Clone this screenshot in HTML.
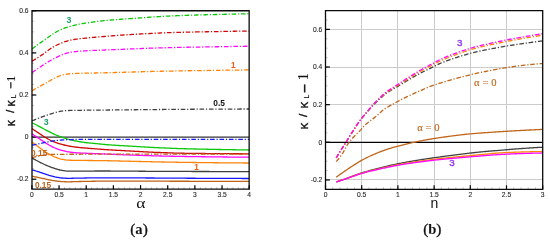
<!DOCTYPE html>
<html><head><meta charset="utf-8"><style>
html,body{margin:0;padding:0;background:#fff;width:550px;height:241px;overflow:hidden;}
svg{display:block;will-change:transform;}
</style></head><body>
<svg width="550" height="241" viewBox="0 0 550 241">
<style>
.tk{font-family:"Liberation Sans",sans-serif;font-size:6.7px;fill:#2a2a2a;stroke:#2a2a2a;stroke-width:0.12px;}
.lb{font-family:"Liberation Sans",sans-serif;font-weight:bold;}
.sf{font-family:"Liberation Serif",serif;}
</style>
<rect width="550" height="241" fill="#fff"/>
<line x1="31.90" y1="189.15" x2="31.90" y2="187.15" stroke="#a8a8a8" stroke-width="0.7"/>
<line x1="37.33" y1="189.15" x2="37.33" y2="187.15" stroke="#a8a8a8" stroke-width="0.7"/>
<line x1="42.77" y1="189.15" x2="42.77" y2="187.15" stroke="#a8a8a8" stroke-width="0.7"/>
<line x1="48.20" y1="189.15" x2="48.20" y2="187.15" stroke="#a8a8a8" stroke-width="0.7"/>
<line x1="53.63" y1="189.15" x2="53.63" y2="187.15" stroke="#a8a8a8" stroke-width="0.7"/>
<line x1="59.06" y1="189.15" x2="59.06" y2="187.15" stroke="#a8a8a8" stroke-width="0.7"/>
<line x1="64.50" y1="189.15" x2="64.50" y2="187.15" stroke="#a8a8a8" stroke-width="0.7"/>
<line x1="69.93" y1="189.15" x2="69.93" y2="187.15" stroke="#a8a8a8" stroke-width="0.7"/>
<line x1="75.36" y1="189.15" x2="75.36" y2="187.15" stroke="#a8a8a8" stroke-width="0.7"/>
<line x1="80.80" y1="189.15" x2="80.80" y2="187.15" stroke="#a8a8a8" stroke-width="0.7"/>
<line x1="86.23" y1="189.15" x2="86.23" y2="187.15" stroke="#a8a8a8" stroke-width="0.7"/>
<line x1="91.66" y1="189.15" x2="91.66" y2="187.15" stroke="#a8a8a8" stroke-width="0.7"/>
<line x1="97.10" y1="189.15" x2="97.10" y2="187.15" stroke="#a8a8a8" stroke-width="0.7"/>
<line x1="102.53" y1="189.15" x2="102.53" y2="187.15" stroke="#a8a8a8" stroke-width="0.7"/>
<line x1="107.96" y1="189.15" x2="107.96" y2="187.15" stroke="#a8a8a8" stroke-width="0.7"/>
<line x1="113.40" y1="189.15" x2="113.40" y2="187.15" stroke="#a8a8a8" stroke-width="0.7"/>
<line x1="118.83" y1="189.15" x2="118.83" y2="187.15" stroke="#a8a8a8" stroke-width="0.7"/>
<line x1="124.26" y1="189.15" x2="124.26" y2="187.15" stroke="#a8a8a8" stroke-width="0.7"/>
<line x1="129.69" y1="189.15" x2="129.69" y2="187.15" stroke="#a8a8a8" stroke-width="0.7"/>
<line x1="135.13" y1="189.15" x2="135.13" y2="187.15" stroke="#a8a8a8" stroke-width="0.7"/>
<line x1="140.56" y1="189.15" x2="140.56" y2="187.15" stroke="#a8a8a8" stroke-width="0.7"/>
<line x1="145.99" y1="189.15" x2="145.99" y2="187.15" stroke="#a8a8a8" stroke-width="0.7"/>
<line x1="151.43" y1="189.15" x2="151.43" y2="187.15" stroke="#a8a8a8" stroke-width="0.7"/>
<line x1="156.86" y1="189.15" x2="156.86" y2="187.15" stroke="#a8a8a8" stroke-width="0.7"/>
<line x1="162.29" y1="189.15" x2="162.29" y2="187.15" stroke="#a8a8a8" stroke-width="0.7"/>
<line x1="167.72" y1="189.15" x2="167.72" y2="187.15" stroke="#a8a8a8" stroke-width="0.7"/>
<line x1="173.16" y1="189.15" x2="173.16" y2="187.15" stroke="#a8a8a8" stroke-width="0.7"/>
<line x1="178.59" y1="189.15" x2="178.59" y2="187.15" stroke="#a8a8a8" stroke-width="0.7"/>
<line x1="184.02" y1="189.15" x2="184.02" y2="187.15" stroke="#a8a8a8" stroke-width="0.7"/>
<line x1="189.46" y1="189.15" x2="189.46" y2="187.15" stroke="#a8a8a8" stroke-width="0.7"/>
<line x1="194.89" y1="189.15" x2="194.89" y2="187.15" stroke="#a8a8a8" stroke-width="0.7"/>
<line x1="200.32" y1="189.15" x2="200.32" y2="187.15" stroke="#a8a8a8" stroke-width="0.7"/>
<line x1="205.76" y1="189.15" x2="205.76" y2="187.15" stroke="#a8a8a8" stroke-width="0.7"/>
<line x1="211.19" y1="189.15" x2="211.19" y2="187.15" stroke="#a8a8a8" stroke-width="0.7"/>
<line x1="216.62" y1="189.15" x2="216.62" y2="187.15" stroke="#a8a8a8" stroke-width="0.7"/>
<line x1="222.06" y1="189.15" x2="222.06" y2="187.15" stroke="#a8a8a8" stroke-width="0.7"/>
<line x1="227.49" y1="189.15" x2="227.49" y2="187.15" stroke="#a8a8a8" stroke-width="0.7"/>
<line x1="232.92" y1="189.15" x2="232.92" y2="187.15" stroke="#a8a8a8" stroke-width="0.7"/>
<line x1="238.35" y1="189.15" x2="238.35" y2="187.15" stroke="#a8a8a8" stroke-width="0.7"/>
<line x1="243.79" y1="189.15" x2="243.79" y2="187.15" stroke="#a8a8a8" stroke-width="0.7"/>
<line x1="249.22" y1="189.15" x2="249.22" y2="187.15" stroke="#a8a8a8" stroke-width="0.7"/>
<line x1="31.9" y1="179.20" x2="33.9" y2="179.20" stroke="#a8a8a8" stroke-width="0.7"/>
<line x1="31.9" y1="168.67" x2="33.9" y2="168.67" stroke="#a8a8a8" stroke-width="0.7"/>
<line x1="31.9" y1="158.15" x2="33.9" y2="158.15" stroke="#a8a8a8" stroke-width="0.7"/>
<line x1="31.9" y1="147.62" x2="33.9" y2="147.62" stroke="#a8a8a8" stroke-width="0.7"/>
<line x1="31.9" y1="137.10" x2="33.9" y2="137.10" stroke="#a8a8a8" stroke-width="0.7"/>
<line x1="31.9" y1="126.57" x2="33.9" y2="126.57" stroke="#a8a8a8" stroke-width="0.7"/>
<line x1="31.9" y1="116.05" x2="33.9" y2="116.05" stroke="#a8a8a8" stroke-width="0.7"/>
<line x1="31.9" y1="105.52" x2="33.9" y2="105.52" stroke="#a8a8a8" stroke-width="0.7"/>
<line x1="31.9" y1="95.00" x2="33.9" y2="95.00" stroke="#a8a8a8" stroke-width="0.7"/>
<line x1="31.9" y1="84.47" x2="33.9" y2="84.47" stroke="#a8a8a8" stroke-width="0.7"/>
<line x1="31.9" y1="73.95" x2="33.9" y2="73.95" stroke="#a8a8a8" stroke-width="0.7"/>
<line x1="31.9" y1="63.42" x2="33.9" y2="63.42" stroke="#a8a8a8" stroke-width="0.7"/>
<line x1="31.9" y1="52.90" x2="33.9" y2="52.90" stroke="#a8a8a8" stroke-width="0.7"/>
<line x1="31.9" y1="42.37" x2="33.9" y2="42.37" stroke="#a8a8a8" stroke-width="0.7"/>
<line x1="31.9" y1="31.85" x2="33.9" y2="31.85" stroke="#a8a8a8" stroke-width="0.7"/>
<line x1="31.9" y1="21.32" x2="33.9" y2="21.32" stroke="#a8a8a8" stroke-width="0.7"/>
<line x1="31.9" y1="10.80" x2="33.9" y2="10.80" stroke="#a8a8a8" stroke-width="0.7"/>
<line x1="31.90" y1="189.15" x2="31.90" y2="185.15" stroke="#000" stroke-width="1.2"/>
<line x1="59.06" y1="189.15" x2="59.06" y2="185.15" stroke="#000" stroke-width="1.2"/>
<line x1="86.23" y1="189.15" x2="86.23" y2="185.15" stroke="#000" stroke-width="1.2"/>
<line x1="113.40" y1="189.15" x2="113.40" y2="185.15" stroke="#000" stroke-width="1.2"/>
<line x1="140.56" y1="189.15" x2="140.56" y2="185.15" stroke="#000" stroke-width="1.2"/>
<line x1="167.72" y1="189.15" x2="167.72" y2="185.15" stroke="#000" stroke-width="1.2"/>
<line x1="194.89" y1="189.15" x2="194.89" y2="185.15" stroke="#000" stroke-width="1.2"/>
<line x1="222.06" y1="189.15" x2="222.06" y2="185.15" stroke="#000" stroke-width="1.2"/>
<line x1="249.22" y1="189.15" x2="249.22" y2="185.15" stroke="#000" stroke-width="1.2"/>
<line x1="31.9" y1="179.20" x2="36.3" y2="179.20" stroke="#000" stroke-width="1.2"/>
<line x1="31.9" y1="137.10" x2="36.3" y2="137.10" stroke="#000" stroke-width="1.2"/>
<line x1="31.9" y1="95.00" x2="36.3" y2="95.00" stroke="#000" stroke-width="1.2"/>
<line x1="31.9" y1="52.90" x2="36.3" y2="52.90" stroke="#000" stroke-width="1.2"/>
<line x1="31.9" y1="10.80" x2="36.3" y2="10.80" stroke="#000" stroke-width="1.2"/>
<text x="31.90" y="197.1" class="tk" text-anchor="middle">0</text>
<text x="59.06" y="197.1" class="tk" text-anchor="middle">0.5</text>
<text x="86.23" y="197.1" class="tk" text-anchor="middle">1</text>
<text x="113.40" y="197.1" class="tk" text-anchor="middle">1.5</text>
<text x="140.56" y="197.1" class="tk" text-anchor="middle">2</text>
<text x="167.72" y="197.1" class="tk" text-anchor="middle">2.5</text>
<text x="194.89" y="197.1" class="tk" text-anchor="middle">3</text>
<text x="222.06" y="197.1" class="tk" text-anchor="middle">3.5</text>
<text x="249.22" y="197.1" class="tk" text-anchor="middle">4</text>
<text x="28.60" y="181.45" class="tk" text-anchor="end">-0.2</text>
<text x="28.60" y="139.35" class="tk" text-anchor="end">0</text>
<text x="28.60" y="97.25" class="tk" text-anchor="end">0.2</text>
<text x="28.60" y="55.15" class="tk" text-anchor="end">0.4</text>
<text x="28.60" y="13.05" class="tk" text-anchor="end">0.6</text>
<line x1="31.9" y1="137.1" x2="249.15" y2="137.1" stroke="#333" stroke-width="1.25"/>
<g fill="none" stroke-width="1.3">
<path d="M32.00,176.30 L33.00,176.47 L34.00,176.64 L35.00,176.82 L36.00,177.01 L37.00,177.20 L38.00,177.40 L39.00,177.62 L40.00,177.84 L41.00,178.06 L42.00,178.28 L43.00,178.50 L44.00,178.72 L45.00,178.94 L46.00,179.16 L47.00,179.38 L48.00,179.60 L49.00,179.81 L50.00,180.00 L51.00,180.19 L52.00,180.37 L53.00,180.55 L54.00,180.71 L55.00,180.87 L56.00,181.00 L57.00,181.12 L58.00,181.24 L59.00,181.36 L60.00,181.46 L61.00,181.54 L62.00,181.60 L63.00,181.65 L64.00,181.70 L65.00,181.74 L66.00,181.77 L67.00,181.79 L68.00,181.80 L69.00,181.80 L70.00,181.78 L71.00,181.76 L72.00,181.74 L73.00,181.71 L74.00,181.68 L75.00,181.65 L76.00,181.61 L77.00,181.58 L78.00,181.55 L79.00,181.52 L80.00,181.50 L81.00,181.48 L82.00,181.46 L83.00,181.44 L84.00,181.42 L85.00,181.40 L86.00,181.38 L87.00,181.36 L88.00,181.34 L89.00,181.32 L90.00,181.30 L91.00,181.28 L92.00,181.27 L93.00,181.25 L94.00,181.24 L95.00,181.23 L96.00,181.22 L97.00,181.21 L98.00,181.20 L99.00,181.20 L100.00,181.20 L101.00,181.20 L102.00,181.20 L103.00,181.20 L104.00,181.20 L105.00,181.20 L106.00,181.20 L107.00,181.20 L108.00,181.20 L109.00,181.20 L110.00,181.20 L111.00,181.20 L112.00,181.20 L113.00,181.20 L114.00,181.20 L115.00,181.20 L116.00,181.20 L117.00,181.20 L118.00,181.20 L119.00,181.20 L120.00,181.20 L121.00,181.20 L122.00,181.20 L123.00,181.20 L124.00,181.20 L125.00,181.20 L126.00,181.20 L127.00,181.20 L128.00,181.20 L129.00,181.20 L130.00,181.20 L131.00,181.20 L132.00,181.20 L133.00,181.20 L134.00,181.20 L135.00,181.20 L136.00,181.20 L137.00,181.20 L138.00,181.20 L139.00,181.20 L140.00,181.20 L141.00,181.20 L142.00,181.20 L143.00,181.20 L144.00,181.20 L145.00,181.20 L146.00,181.20 L147.00,181.20 L148.00,181.20 L149.00,181.20 L150.00,181.20 L151.00,181.20 L152.00,181.20 L153.00,181.20 L154.00,181.20 L155.00,181.20 L156.00,181.20 L157.00,181.20 L158.00,181.20 L159.00,181.21 L160.00,181.21 L161.00,181.21 L162.00,181.21 L163.00,181.21 L164.00,181.21 L165.00,181.22 L166.00,181.22 L167.00,181.22 L168.00,181.22 L169.00,181.22 L170.00,181.23 L171.00,181.23 L172.00,181.23 L173.00,181.23 L174.00,181.23 L175.00,181.24 L176.00,181.24 L177.00,181.24 L178.00,181.25 L179.00,181.25 L180.00,181.25 L181.00,181.25 L182.00,181.26 L183.00,181.26 L184.00,181.26 L185.00,181.26 L186.00,181.27 L187.00,181.27 L188.00,181.27 L189.00,181.27 L190.00,181.28 L191.00,181.28 L192.00,181.28 L193.00,181.28 L194.00,181.29 L195.00,181.29 L196.00,181.29 L197.00,181.29 L198.00,181.30 L199.00,181.30 L200.00,181.30 L201.00,181.30 L202.00,181.30 L203.00,181.31 L204.00,181.31 L205.00,181.31 L206.00,181.31 L207.00,181.31 L208.00,181.32 L209.00,181.32 L210.00,181.32 L211.00,181.32 L212.00,181.32 L213.00,181.33 L214.00,181.33 L215.00,181.33 L216.00,181.33 L217.00,181.33 L218.00,181.34 L219.00,181.34 L220.00,181.34 L221.00,181.34 L222.00,181.34 L223.00,181.35 L224.00,181.35 L225.00,181.35 L226.00,181.35 L227.00,181.35 L228.00,181.36 L229.00,181.36 L230.00,181.36 L231.00,181.36 L232.00,181.37 L233.00,181.37 L234.00,181.37 L235.00,181.37 L236.00,181.37 L237.00,181.38 L238.00,181.38 L239.00,181.38 L240.00,181.38 L241.00,181.38 L242.00,181.39 L243.00,181.39 L244.00,181.39 L245.00,181.39 L246.00,181.39 L247.00,181.40 L248.00,181.40 L249.00,181.40" stroke="#c06418"/>
<path d="M32.00,169.90 L33.00,170.16 L34.00,170.43 L35.00,170.71 L36.00,171.00 L37.00,171.30 L38.00,171.61 L39.00,171.94 L40.00,172.28 L41.00,172.62 L42.00,172.96 L43.00,173.30 L44.00,173.64 L45.00,173.98 L46.00,174.32 L47.00,174.66 L48.00,174.99 L49.00,175.31 L50.00,175.60 L51.00,175.88 L52.00,176.16 L53.00,176.42 L54.00,176.67 L55.00,176.90 L56.00,177.10 L57.00,177.29 L58.00,177.47 L59.00,177.63 L60.00,177.78 L61.00,177.91 L62.00,178.00 L63.00,178.07 L64.00,178.14 L65.00,178.21 L66.00,178.26 L67.00,178.29 L68.00,178.30 L69.00,178.30 L70.00,178.29 L71.00,178.28 L72.00,178.26 L73.00,178.24 L74.00,178.22 L75.00,178.20 L76.00,178.18 L77.00,178.16 L78.00,178.14 L79.00,178.12 L80.00,178.10 L81.00,178.08 L82.00,178.07 L83.00,178.05 L84.00,178.03 L85.00,178.01 L86.00,177.99 L87.00,177.97 L88.00,177.95 L89.00,177.93 L90.00,177.91 L91.00,177.89 L92.00,177.88 L93.00,177.86 L94.00,177.84 L95.00,177.83 L96.00,177.82 L97.00,177.81 L98.00,177.81 L99.00,177.80 L100.00,177.80 L101.00,177.80 L102.00,177.80 L103.00,177.80 L104.00,177.80 L105.00,177.80 L106.00,177.80 L107.00,177.81 L108.00,177.81 L109.00,177.81 L110.00,177.81 L111.00,177.82 L112.00,177.82 L113.00,177.82 L114.00,177.82 L115.00,177.83 L116.00,177.83 L117.00,177.84 L118.00,177.84 L119.00,177.84 L120.00,177.85 L121.00,177.85 L122.00,177.86 L123.00,177.86 L124.00,177.87 L125.00,177.87 L126.00,177.87 L127.00,177.88 L128.00,177.88 L129.00,177.89 L130.00,177.90 L131.00,177.90 L132.00,177.91 L133.00,177.91 L134.00,177.92 L135.00,177.92 L136.00,177.93 L137.00,177.93 L138.00,177.94 L139.00,177.94 L140.00,177.95 L141.00,177.95 L142.00,177.96 L143.00,177.96 L144.00,177.97 L145.00,177.97 L146.00,177.98 L147.00,177.99 L148.00,177.99 L149.00,178.00 L150.00,178.00 L151.00,178.00 L152.00,178.01 L153.00,178.02 L154.00,178.02 L155.00,178.03 L156.00,178.03 L157.00,178.04 L158.00,178.04 L159.00,178.05 L160.00,178.05 L161.00,178.06 L162.00,178.07 L163.00,178.07 L164.00,178.08 L165.00,178.08 L166.00,178.09 L167.00,178.10 L168.00,178.10 L169.00,178.11 L170.00,178.12 L171.00,178.12 L172.00,178.13 L173.00,178.14 L174.00,178.14 L175.00,178.15 L176.00,178.16 L177.00,178.16 L178.00,178.17 L179.00,178.18 L180.00,178.18 L181.00,178.19 L182.00,178.20 L183.00,178.20 L184.00,178.21 L185.00,178.21 L186.00,178.22 L187.00,178.23 L188.00,178.23 L189.00,178.24 L190.00,178.25 L191.00,178.25 L192.00,178.26 L193.00,178.26 L194.00,178.27 L195.00,178.27 L196.00,178.28 L197.00,178.28 L198.00,178.29 L199.00,178.30 L200.00,178.30 L201.00,178.30 L202.00,178.31 L203.00,178.31 L204.00,178.32 L205.00,178.32 L206.00,178.33 L207.00,178.33 L208.00,178.34 L209.00,178.34 L210.00,178.35 L211.00,178.35 L212.00,178.36 L213.00,178.36 L214.00,178.37 L215.00,178.37 L216.00,178.37 L217.00,178.38 L218.00,178.38 L219.00,178.39 L220.00,178.39 L221.00,178.40 L222.00,178.40 L223.00,178.40 L224.00,178.41 L225.00,178.41 L226.00,178.42 L227.00,178.42 L228.00,178.42 L229.00,178.43 L230.00,178.43 L231.00,178.44 L232.00,178.44 L233.00,178.44 L234.00,178.45 L235.00,178.45 L236.00,178.46 L237.00,178.46 L238.00,178.46 L239.00,178.47 L240.00,178.47 L241.00,178.47 L242.00,178.48 L243.00,178.48 L244.00,178.48 L245.00,178.49 L246.00,178.49 L247.00,178.49 L248.00,178.50 L249.00,178.50" stroke="#1818ff"/>
<path d="M32.00,158.00 L33.00,158.56 L34.00,159.11 L35.00,159.66 L36.00,160.20 L37.00,160.73 L38.00,161.26 L39.00,161.79 L40.00,162.30 L41.00,162.80 L42.00,163.29 L43.00,163.78 L44.00,164.26 L45.00,164.72 L46.00,165.17 L47.00,165.60 L48.00,166.01 L49.00,166.41 L50.00,166.79 L51.00,167.17 L52.00,167.52 L53.00,167.87 L54.00,168.20 L55.00,168.53 L56.00,168.85 L57.00,169.17 L58.00,169.48 L59.00,169.75 L60.00,170.00 L61.00,170.20 L62.00,170.38 L63.00,170.55 L64.00,170.71 L65.00,170.85 L66.00,170.97 L67.00,171.05 L68.00,171.10 L69.00,171.12 L70.00,171.14 L71.00,171.16 L72.00,171.17 L73.00,171.18 L74.00,171.19 L75.00,171.20 L76.00,171.20 L77.00,171.20 L78.00,171.20 L79.00,171.19 L80.00,171.19 L81.00,171.18 L82.00,171.17 L83.00,171.16 L84.00,171.15 L85.00,171.14 L86.00,171.12 L87.00,171.11 L88.00,171.10 L89.00,171.09 L90.00,171.08 L91.00,171.06 L92.00,171.05 L93.00,171.04 L94.00,171.03 L95.00,171.02 L96.00,171.01 L97.00,171.01 L98.00,171.00 L99.00,171.00 L100.00,171.00 L101.00,171.00 L102.00,171.00 L103.00,171.00 L104.00,171.00 L105.00,171.01 L106.00,171.01 L107.00,171.01 L108.00,171.02 L109.00,171.02 L110.00,171.02 L111.00,171.03 L112.00,171.03 L113.00,171.04 L114.00,171.04 L115.00,171.05 L116.00,171.06 L117.00,171.06 L118.00,171.07 L119.00,171.08 L120.00,171.08 L121.00,171.09 L122.00,171.10 L123.00,171.10 L124.00,171.11 L125.00,171.12 L126.00,171.13 L127.00,171.14 L128.00,171.14 L129.00,171.15 L130.00,171.16 L131.00,171.17 L132.00,171.18 L133.00,171.18 L134.00,171.19 L135.00,171.20 L136.00,171.21 L137.00,171.22 L138.00,171.22 L139.00,171.23 L140.00,171.24 L141.00,171.25 L142.00,171.25 L143.00,171.26 L144.00,171.27 L145.00,171.27 L146.00,171.28 L147.00,171.28 L148.00,171.29 L149.00,171.30 L150.00,171.30 L151.00,171.30 L152.00,171.31 L153.00,171.31 L154.00,171.32 L155.00,171.32 L156.00,171.33 L157.00,171.33 L158.00,171.34 L159.00,171.34 L160.00,171.35 L161.00,171.35 L162.00,171.36 L163.00,171.36 L164.00,171.37 L165.00,171.37 L166.00,171.37 L167.00,171.38 L168.00,171.38 L169.00,171.39 L170.00,171.39 L171.00,171.40 L172.00,171.40 L173.00,171.40 L174.00,171.41 L175.00,171.41 L176.00,171.42 L177.00,171.42 L178.00,171.43 L179.00,171.43 L180.00,171.43 L181.00,171.44 L182.00,171.44 L183.00,171.44 L184.00,171.45 L185.00,171.45 L186.00,171.46 L187.00,171.46 L188.00,171.46 L189.00,171.47 L190.00,171.47 L191.00,171.47 L192.00,171.48 L193.00,171.48 L194.00,171.48 L195.00,171.49 L196.00,171.49 L197.00,171.49 L198.00,171.49 L199.00,171.50 L200.00,171.50 L201.00,171.50 L202.00,171.51 L203.00,171.51 L204.00,171.51 L205.00,171.51 L206.00,171.52 L207.00,171.52 L208.00,171.52 L209.00,171.52 L210.00,171.53 L211.00,171.53 L212.00,171.53 L213.00,171.53 L214.00,171.54 L215.00,171.54 L216.00,171.54 L217.00,171.54 L218.00,171.55 L219.00,171.55 L220.00,171.55 L221.00,171.55 L222.00,171.55 L223.00,171.56 L224.00,171.56 L225.00,171.56 L226.00,171.56 L227.00,171.57 L228.00,171.57 L229.00,171.57 L230.00,171.57 L231.00,171.57 L232.00,171.57 L233.00,171.58 L234.00,171.58 L235.00,171.58 L236.00,171.58 L237.00,171.58 L238.00,171.59 L239.00,171.59 L240.00,171.59 L241.00,171.59 L242.00,171.59 L243.00,171.59 L244.00,171.59 L245.00,171.60 L246.00,171.60 L247.00,171.60 L248.00,171.60 L249.00,171.60" stroke="#404040"/>
<path d="M32.00,142.20 L33.00,142.84 L34.00,143.51 L35.00,144.20 L36.00,144.91 L37.00,145.65 L38.00,146.43 L39.00,147.24 L40.00,148.04 L41.00,148.80 L42.00,149.53 L43.00,150.25 L44.00,150.96 L45.00,151.64 L46.00,152.29 L47.00,152.90 L48.00,153.48 L49.00,154.05 L50.00,154.61 L51.00,155.14 L52.00,155.65 L53.00,156.13 L54.00,156.58 L55.00,157.00 L56.00,157.40 L57.00,157.79 L58.00,158.16 L59.00,158.51 L60.00,158.82 L61.00,159.09 L62.00,159.30 L63.00,159.48 L64.00,159.65 L65.00,159.81 L66.00,159.95 L67.00,160.06 L68.00,160.15 L69.00,160.20 L70.00,160.23 L71.00,160.26 L72.00,160.28 L73.00,160.30 L74.00,160.32 L75.00,160.34 L76.00,160.35 L77.00,160.36 L78.00,160.37 L79.00,160.39 L80.00,160.40 L81.00,160.41 L82.00,160.42 L83.00,160.44 L84.00,160.45 L85.00,160.46 L86.00,160.47 L87.00,160.47 L88.00,160.48 L89.00,160.49 L90.00,160.50 L91.00,160.51 L92.00,160.52 L93.00,160.53 L94.00,160.53 L95.00,160.54 L96.00,160.55 L97.00,160.56 L98.00,160.58 L99.00,160.59 L100.00,160.60 L101.00,160.61 L102.00,160.63 L103.00,160.64 L104.00,160.66 L105.00,160.68 L106.00,160.70 L107.00,160.71 L108.00,160.73 L109.00,160.75 L110.00,160.78 L111.00,160.80 L112.00,160.82 L113.00,160.84 L114.00,160.86 L115.00,160.89 L116.00,160.91 L117.00,160.94 L118.00,160.96 L119.00,160.99 L120.00,161.01 L121.00,161.04 L122.00,161.06 L123.00,161.09 L124.00,161.11 L125.00,161.14 L126.00,161.16 L127.00,161.19 L128.00,161.21 L129.00,161.24 L130.00,161.27 L131.00,161.29 L132.00,161.31 L133.00,161.34 L134.00,161.36 L135.00,161.39 L136.00,161.41 L137.00,161.43 L138.00,161.46 L139.00,161.48 L140.00,161.50 L141.00,161.52 L142.00,161.54 L143.00,161.56 L144.00,161.59 L145.00,161.61 L146.00,161.63 L147.00,161.65 L148.00,161.67 L149.00,161.70 L150.00,161.72 L151.00,161.74 L152.00,161.76 L153.00,161.78 L154.00,161.81 L155.00,161.83 L156.00,161.85 L157.00,161.87 L158.00,161.89 L159.00,161.92 L160.00,161.94 L161.00,161.96 L162.00,161.98 L163.00,162.00 L164.00,162.02 L165.00,162.04 L166.00,162.06 L167.00,162.08 L168.00,162.10 L169.00,162.12 L170.00,162.14 L171.00,162.16 L172.00,162.17 L173.00,162.19 L174.00,162.21 L175.00,162.22 L176.00,162.24 L177.00,162.26 L178.00,162.27 L179.00,162.29 L180.00,162.30 L181.00,162.31 L182.00,162.33 L183.00,162.34 L184.00,162.36 L185.00,162.37 L186.00,162.38 L187.00,162.40 L188.00,162.41 L189.00,162.42 L190.00,162.44 L191.00,162.45 L192.00,162.46 L193.00,162.48 L194.00,162.49 L195.00,162.50 L196.00,162.52 L197.00,162.53 L198.00,162.54 L199.00,162.55 L200.00,162.57 L201.00,162.58 L202.00,162.59 L203.00,162.60 L204.00,162.62 L205.00,162.63 L206.00,162.64 L207.00,162.65 L208.00,162.66 L209.00,162.67 L210.00,162.69 L211.00,162.70 L212.00,162.71 L213.00,162.72 L214.00,162.73 L215.00,162.74 L216.00,162.75 L217.00,162.76 L218.00,162.77 L219.00,162.78 L220.00,162.79 L221.00,162.80 L222.00,162.81 L223.00,162.82 L224.00,162.83 L225.00,162.84 L226.00,162.85 L227.00,162.86 L228.00,162.87 L229.00,162.88 L230.00,162.88 L231.00,162.89 L232.00,162.90 L233.00,162.91 L234.00,162.91 L235.00,162.92 L236.00,162.93 L237.00,162.94 L238.00,162.94 L239.00,162.95 L240.00,162.95 L241.00,162.96 L242.00,162.97 L243.00,162.97 L244.00,162.98 L245.00,162.98 L246.00,162.99 L247.00,162.99 L248.00,163.00 L249.00,163.00" stroke="#ff8408"/>
<path d="M32.00,133.80 L33.00,134.48 L34.00,135.17 L35.00,135.85 L36.00,136.53 L37.00,137.20 L38.00,137.87 L39.00,138.55 L40.00,139.22 L41.00,139.88 L42.00,140.55 L43.00,141.20 L44.00,141.85 L45.00,142.51 L46.00,143.17 L47.00,143.81 L48.00,144.42 L49.00,145.00 L50.00,145.55 L51.00,146.09 L52.00,146.61 L53.00,147.10 L54.00,147.57 L55.00,148.00 L56.00,148.41 L57.00,148.80 L58.00,149.18 L59.00,149.53 L60.00,149.86 L61.00,150.17 L62.00,150.45 L63.00,150.72 L64.00,150.97 L65.00,151.21 L66.00,151.43 L67.00,151.62 L68.00,151.80 L69.00,151.96 L70.00,152.12 L71.00,152.26 L72.00,152.39 L73.00,152.51 L74.00,152.62 L75.00,152.70 L76.00,152.77 L77.00,152.83 L78.00,152.89 L79.00,152.94 L80.00,152.99 L81.00,153.03 L82.00,153.07 L83.00,153.11 L84.00,153.16 L85.00,153.20 L86.00,153.24 L87.00,153.29 L88.00,153.33 L89.00,153.37 L90.00,153.41 L91.00,153.45 L92.00,153.49 L93.00,153.53 L94.00,153.57 L95.00,153.61 L96.00,153.64 L97.00,153.68 L98.00,153.72 L99.00,153.76 L100.00,153.80 L101.00,153.84 L102.00,153.88 L103.00,153.92 L104.00,153.96 L105.00,154.00 L106.00,154.04 L107.00,154.09 L108.00,154.13 L109.00,154.17 L110.00,154.21 L111.00,154.25 L112.00,154.29 L113.00,154.33 L114.00,154.38 L115.00,154.42 L116.00,154.46 L117.00,154.50 L118.00,154.54 L119.00,154.58 L120.00,154.62 L121.00,154.66 L122.00,154.70 L123.00,154.74 L124.00,154.78 L125.00,154.82 L126.00,154.85 L127.00,154.89 L128.00,154.93 L129.00,154.96 L130.00,155.00 L131.00,155.04 L132.00,155.07 L133.00,155.11 L134.00,155.14 L135.00,155.18 L136.00,155.21 L137.00,155.25 L138.00,155.28 L139.00,155.32 L140.00,155.35 L141.00,155.39 L142.00,155.42 L143.00,155.46 L144.00,155.49 L145.00,155.52 L146.00,155.56 L147.00,155.59 L148.00,155.62 L149.00,155.66 L150.00,155.69 L151.00,155.72 L152.00,155.75 L153.00,155.78 L154.00,155.81 L155.00,155.84 L156.00,155.87 L157.00,155.90 L158.00,155.93 L159.00,155.95 L160.00,155.98 L161.00,156.00 L162.00,156.03 L163.00,156.05 L164.00,156.08 L165.00,156.10 L166.00,156.12 L167.00,156.14 L168.00,156.17 L169.00,156.19 L170.00,156.21 L171.00,156.23 L172.00,156.25 L173.00,156.27 L174.00,156.29 L175.00,156.31 L176.00,156.32 L177.00,156.34 L178.00,156.36 L179.00,156.38 L180.00,156.40 L181.00,156.41 L182.00,156.43 L183.00,156.45 L184.00,156.47 L185.00,156.48 L186.00,156.50 L187.00,156.51 L188.00,156.53 L189.00,156.54 L190.00,156.56 L191.00,156.58 L192.00,156.59 L193.00,156.60 L194.00,156.62 L195.00,156.63 L196.00,156.65 L197.00,156.66 L198.00,156.67 L199.00,156.69 L200.00,156.70 L201.00,156.71 L202.00,156.73 L203.00,156.74 L204.00,156.75 L205.00,156.76 L206.00,156.78 L207.00,156.79 L208.00,156.80 L209.00,156.81 L210.00,156.83 L211.00,156.84 L212.00,156.85 L213.00,156.86 L214.00,156.87 L215.00,156.89 L216.00,156.90 L217.00,156.91 L218.00,156.92 L219.00,156.93 L220.00,156.94 L221.00,156.95 L222.00,156.97 L223.00,156.98 L224.00,156.99 L225.00,157.00 L226.00,157.01 L227.00,157.02 L228.00,157.03 L229.00,157.04 L230.00,157.05 L231.00,157.06 L232.00,157.07 L233.00,157.08 L234.00,157.09 L235.00,157.09 L236.00,157.10 L237.00,157.11 L238.00,157.12 L239.00,157.13 L240.00,157.14 L241.00,157.14 L242.00,157.15 L243.00,157.16 L244.00,157.17 L245.00,157.17 L246.00,157.18 L247.00,157.19 L248.00,157.19 L249.00,157.20" stroke="#ff08ff"/>
<path d="M32.00,128.60 L33.00,129.27 L34.00,129.94 L35.00,130.61 L36.00,131.27 L37.00,131.94 L38.00,132.60 L39.00,133.27 L40.00,133.94 L41.00,134.62 L42.00,135.29 L43.00,135.95 L44.00,136.59 L45.00,137.20 L46.00,137.79 L47.00,138.38 L48.00,138.96 L49.00,139.51 L50.00,140.04 L51.00,140.54 L52.00,141.00 L53.00,141.43 L54.00,141.83 L55.00,142.22 L56.00,142.59 L57.00,142.94 L58.00,143.28 L59.00,143.60 L60.00,143.90 L61.00,144.19 L62.00,144.47 L63.00,144.74 L64.00,145.00 L65.00,145.25 L66.00,145.48 L67.00,145.70 L68.00,145.90 L69.00,146.09 L70.00,146.26 L71.00,146.43 L72.00,146.59 L73.00,146.73 L74.00,146.87 L75.00,147.00 L76.00,147.12 L77.00,147.23 L78.00,147.34 L79.00,147.44 L80.00,147.54 L81.00,147.64 L82.00,147.73 L83.00,147.82 L84.00,147.91 L85.00,148.00 L86.00,148.09 L87.00,148.17 L88.00,148.26 L89.00,148.34 L90.00,148.42 L91.00,148.49 L92.00,148.57 L93.00,148.65 L94.00,148.72 L95.00,148.80 L96.00,148.88 L97.00,148.95 L98.00,149.03 L99.00,149.11 L100.00,149.19 L101.00,149.26 L102.00,149.34 L103.00,149.41 L104.00,149.49 L105.00,149.56 L106.00,149.63 L107.00,149.70 L108.00,149.77 L109.00,149.84 L110.00,149.90 L111.00,149.96 L112.00,150.02 L113.00,150.08 L114.00,150.14 L115.00,150.20 L116.00,150.25 L117.00,150.31 L118.00,150.36 L119.00,150.42 L120.00,150.47 L121.00,150.52 L122.00,150.58 L123.00,150.63 L124.00,150.68 L125.00,150.73 L126.00,150.79 L127.00,150.84 L128.00,150.89 L129.00,150.95 L130.00,151.00 L131.00,151.06 L132.00,151.11 L133.00,151.17 L134.00,151.23 L135.00,151.28 L136.00,151.34 L137.00,151.40 L138.00,151.46 L139.00,151.52 L140.00,151.57 L141.00,151.63 L142.00,151.69 L143.00,151.74 L144.00,151.80 L145.00,151.85 L146.00,151.90 L147.00,151.95 L148.00,152.00 L149.00,152.05 L150.00,152.10 L151.00,152.15 L152.00,152.19 L153.00,152.23 L154.00,152.28 L155.00,152.32 L156.00,152.36 L157.00,152.40 L158.00,152.44 L159.00,152.48 L160.00,152.51 L161.00,152.55 L162.00,152.59 L163.00,152.63 L164.00,152.66 L165.00,152.70 L166.00,152.74 L167.00,152.77 L168.00,152.81 L169.00,152.85 L170.00,152.89 L171.00,152.93 L172.00,152.97 L173.00,153.00 L174.00,153.04 L175.00,153.07 L176.00,153.10 L177.00,153.13 L178.00,153.16 L179.00,153.18 L180.00,153.20 L181.00,153.22 L182.00,153.24 L183.00,153.25 L184.00,153.27 L185.00,153.28 L186.00,153.30 L187.00,153.31 L188.00,153.33 L189.00,153.34 L190.00,153.36 L191.00,153.37 L192.00,153.38 L193.00,153.39 L194.00,153.41 L195.00,153.42 L196.00,153.43 L197.00,153.44 L198.00,153.45 L199.00,153.46 L200.00,153.47 L201.00,153.48 L202.00,153.49 L203.00,153.50 L204.00,153.51 L205.00,153.52 L206.00,153.53 L207.00,153.54 L208.00,153.54 L209.00,153.55 L210.00,153.56 L211.00,153.57 L212.00,153.58 L213.00,153.58 L214.00,153.59 L215.00,153.60 L216.00,153.61 L217.00,153.62 L218.00,153.62 L219.00,153.63 L220.00,153.64 L221.00,153.65 L222.00,153.65 L223.00,153.66 L224.00,153.67 L225.00,153.67 L226.00,153.68 L227.00,153.69 L228.00,153.69 L229.00,153.70 L230.00,153.71 L231.00,153.71 L232.00,153.72 L233.00,153.73 L234.00,153.73 L235.00,153.74 L236.00,153.74 L237.00,153.75 L238.00,153.75 L239.00,153.76 L240.00,153.76 L241.00,153.77 L242.00,153.77 L243.00,153.78 L244.00,153.78 L245.00,153.79 L246.00,153.79 L247.00,153.79 L248.00,153.80 L249.00,153.80" stroke="#d00808"/>
<path d="M32.00,122.80 L33.00,123.29 L34.00,123.78 L35.00,124.28 L36.00,124.78 L37.00,125.29 L38.00,125.80 L39.00,126.32 L40.00,126.85 L41.00,127.39 L42.00,127.93 L43.00,128.46 L44.00,129.00 L45.00,129.54 L46.00,130.08 L47.00,130.63 L48.00,131.16 L49.00,131.69 L50.00,132.20 L51.00,132.70 L52.00,133.19 L53.00,133.67 L54.00,134.13 L55.00,134.58 L56.00,135.00 L57.00,135.40 L58.00,135.78 L59.00,136.15 L60.00,136.50 L61.00,136.85 L62.00,137.20 L63.00,137.55 L64.00,137.91 L65.00,138.26 L66.00,138.59 L67.00,138.91 L68.00,139.20 L69.00,139.46 L70.00,139.71 L71.00,139.95 L72.00,140.18 L73.00,140.39 L74.00,140.60 L75.00,140.80 L76.00,141.00 L77.00,141.19 L78.00,141.38 L79.00,141.56 L80.00,141.74 L81.00,141.91 L82.00,142.07 L83.00,142.22 L84.00,142.37 L85.00,142.50 L86.00,142.62 L87.00,142.73 L88.00,142.84 L89.00,142.94 L90.00,143.04 L91.00,143.13 L92.00,143.22 L93.00,143.31 L94.00,143.40 L95.00,143.50 L96.00,143.60 L97.00,143.70 L98.00,143.80 L99.00,143.90 L100.00,144.00 L101.00,144.10 L102.00,144.19 L103.00,144.29 L104.00,144.39 L105.00,144.48 L106.00,144.57 L107.00,144.66 L108.00,144.74 L109.00,144.82 L110.00,144.90 L111.00,144.97 L112.00,145.04 L113.00,145.11 L114.00,145.18 L115.00,145.24 L116.00,145.30 L117.00,145.36 L118.00,145.42 L119.00,145.48 L120.00,145.53 L121.00,145.59 L122.00,145.65 L123.00,145.70 L124.00,145.76 L125.00,145.81 L126.00,145.87 L127.00,145.93 L128.00,145.98 L129.00,146.04 L130.00,146.10 L131.00,146.16 L132.00,146.22 L133.00,146.28 L134.00,146.34 L135.00,146.41 L136.00,146.47 L137.00,146.53 L138.00,146.59 L139.00,146.66 L140.00,146.72 L141.00,146.78 L142.00,146.84 L143.00,146.90 L144.00,146.96 L145.00,147.02 L146.00,147.08 L147.00,147.14 L148.00,147.19 L149.00,147.25 L150.00,147.30 L151.00,147.35 L152.00,147.40 L153.00,147.45 L154.00,147.50 L155.00,147.55 L156.00,147.60 L157.00,147.64 L158.00,147.69 L159.00,147.74 L160.00,147.78 L161.00,147.83 L162.00,147.87 L163.00,147.91 L164.00,147.96 L165.00,148.00 L166.00,148.04 L167.00,148.09 L168.00,148.13 L169.00,148.17 L170.00,148.22 L171.00,148.26 L172.00,148.30 L173.00,148.34 L174.00,148.39 L175.00,148.43 L176.00,148.46 L177.00,148.50 L178.00,148.54 L179.00,148.57 L180.00,148.60 L181.00,148.63 L182.00,148.66 L183.00,148.69 L184.00,148.72 L185.00,148.74 L186.00,148.77 L187.00,148.80 L188.00,148.82 L189.00,148.85 L190.00,148.87 L191.00,148.90 L192.00,148.92 L193.00,148.94 L194.00,148.97 L195.00,148.99 L196.00,149.01 L197.00,149.03 L198.00,149.06 L199.00,149.08 L200.00,149.10 L201.00,149.12 L202.00,149.14 L203.00,149.16 L204.00,149.18 L205.00,149.20 L206.00,149.22 L207.00,149.24 L208.00,149.26 L209.00,149.28 L210.00,149.30 L211.00,149.32 L212.00,149.34 L213.00,149.36 L214.00,149.38 L215.00,149.40 L216.00,149.42 L217.00,149.44 L218.00,149.46 L219.00,149.48 L220.00,149.50 L221.00,149.52 L222.00,149.54 L223.00,149.56 L224.00,149.57 L225.00,149.59 L226.00,149.61 L227.00,149.63 L228.00,149.65 L229.00,149.67 L230.00,149.68 L231.00,149.70 L232.00,149.72 L233.00,149.74 L234.00,149.76 L235.00,149.77 L236.00,149.79 L237.00,149.81 L238.00,149.82 L239.00,149.84 L240.00,149.86 L241.00,149.87 L242.00,149.89 L243.00,149.91 L244.00,149.92 L245.00,149.94 L246.00,149.95 L247.00,149.97 L248.00,149.98 L249.00,150.00" stroke="#08c808"/>
<path d="M32.00,157.60 L33.00,157.37 L34.00,157.15 L35.00,156.93 L36.00,156.71 L37.00,156.50 L38.00,156.30 L39.00,156.10 L40.00,155.89 L41.00,155.68 L42.00,155.48 L43.00,155.30 L44.00,155.13 L45.00,155.00 L46.00,154.88 L47.00,154.77 L48.00,154.67 L49.00,154.57 L50.00,154.49 L51.00,154.44 L52.00,154.40 L53.00,154.38 L54.00,154.36 L55.00,154.35 L56.00,154.33 L57.00,154.32 L58.00,154.31 L59.00,154.31 L60.00,154.30 L61.00,154.30 L62.00,154.29 L63.00,154.29 L64.00,154.28 L65.00,154.28 L66.00,154.27 L67.00,154.27 L68.00,154.26 L69.00,154.26 L70.00,154.26 L71.00,154.25 L72.00,154.25 L73.00,154.25 L74.00,154.24 L75.00,154.24 L76.00,154.24 L77.00,154.23 L78.00,154.23 L79.00,154.23 L80.00,154.23 L81.00,154.22 L82.00,154.22 L83.00,154.22 L84.00,154.22 L85.00,154.21 L86.00,154.21 L87.00,154.21 L88.00,154.21 L89.00,154.21 L90.00,154.21 L91.00,154.21 L92.00,154.20 L93.00,154.20 L94.00,154.20 L95.00,154.20 L96.00,154.20 L97.00,154.20 L98.00,154.20 L99.00,154.20 L100.00,154.20 L101.00,154.20 L102.00,154.20 L103.00,154.20 L104.00,154.20 L105.00,154.20 L106.00,154.20 L107.00,154.20 L108.00,154.20 L109.00,154.20 L110.00,154.20 L111.00,154.20 L112.00,154.20 L113.00,154.20 L114.00,154.20 L115.00,154.20 L116.00,154.20 L117.00,154.20 L118.00,154.20 L119.00,154.20 L120.00,154.20 L121.00,154.20 L122.00,154.20 L123.00,154.20 L124.00,154.20 L125.00,154.20 L126.00,154.20 L127.00,154.20 L128.00,154.20 L129.00,154.20 L130.00,154.20 L131.00,154.20 L132.00,154.20 L133.00,154.20 L134.00,154.20 L135.00,154.20 L136.00,154.20 L137.00,154.20 L138.00,154.20 L139.00,154.20 L140.00,154.20 L141.00,154.20 L142.00,154.20 L143.00,154.20 L144.00,154.20 L145.00,154.20 L146.00,154.20 L147.00,154.20 L148.00,154.20 L149.00,154.20 L150.00,154.20 L151.00,154.20 L152.00,154.20 L153.00,154.20 L154.00,154.20 L155.00,154.20 L156.00,154.20 L157.00,154.20 L158.00,154.20 L159.00,154.20 L160.00,154.20 L161.00,154.20 L162.00,154.20 L163.00,154.20 L164.00,154.20 L165.00,154.20 L166.00,154.20 L167.00,154.20 L168.00,154.20 L169.00,154.20 L170.00,154.20 L171.00,154.20 L172.00,154.20 L173.00,154.20 L174.00,154.20 L175.00,154.20 L176.00,154.20 L177.00,154.20 L178.00,154.20 L179.00,154.20 L180.00,154.20 L181.00,154.20 L182.00,154.20 L183.00,154.20 L184.00,154.20 L185.00,154.20 L186.00,154.20 L187.00,154.20 L188.00,154.20 L189.00,154.20 L190.00,154.20 L191.00,154.20 L192.00,154.20 L193.00,154.20 L194.00,154.20 L195.00,154.20 L196.00,154.20 L197.00,154.20 L198.00,154.20 L199.00,154.20 L200.00,154.20 L201.00,154.20 L202.00,154.20 L203.00,154.20 L204.00,154.20 L205.00,154.20 L206.00,154.20 L207.00,154.20 L208.00,154.20 L209.00,154.20 L210.00,154.20 L211.00,154.20 L212.00,154.20 L213.00,154.20 L214.00,154.20 L215.00,154.20 L216.00,154.20 L217.00,154.20 L218.00,154.20 L219.00,154.20 L220.00,154.20 L221.00,154.20 L222.00,154.20 L223.00,154.20 L224.00,154.20 L225.00,154.20 L226.00,154.20 L227.00,154.20 L228.00,154.20 L229.00,154.20 L230.00,154.20 L231.00,154.20 L232.00,154.20 L233.00,154.20 L234.00,154.20 L235.00,154.20 L236.00,154.20 L237.00,154.20 L238.00,154.20 L239.00,154.20 L240.00,154.20 L241.00,154.20 L242.00,154.20 L243.00,154.20 L244.00,154.20 L245.00,154.20 L246.00,154.20 L247.00,154.20 L248.00,154.20 L249.00,154.20" stroke="#c06418" stroke-dasharray="4.6 1.8 1.2 1.8"/>
<path d="M32.00,145.20 L33.00,145.01 L34.00,144.81 L35.00,144.61 L36.00,144.41 L37.00,144.21 L38.00,144.00 L39.00,143.79 L40.00,143.57 L41.00,143.35 L42.00,143.13 L43.00,142.91 L44.00,142.70 L45.00,142.50 L46.00,142.30 L47.00,142.10 L48.00,141.90 L49.00,141.70 L50.00,141.50 L51.00,141.32 L52.00,141.14 L53.00,140.98 L54.00,140.83 L55.00,140.70 L56.00,140.58 L57.00,140.47 L58.00,140.36 L59.00,140.25 L60.00,140.15 L61.00,140.06 L62.00,139.98 L63.00,139.91 L64.00,139.85 L65.00,139.80 L66.00,139.76 L67.00,139.72 L68.00,139.68 L69.00,139.64 L70.00,139.61 L71.00,139.58 L72.00,139.55 L73.00,139.52 L74.00,139.50 L75.00,139.48 L76.00,139.46 L77.00,139.44 L78.00,139.42 L79.00,139.41 L80.00,139.40 L81.00,139.39 L82.00,139.38 L83.00,139.38 L84.00,139.37 L85.00,139.36 L86.00,139.35 L87.00,139.35 L88.00,139.34 L89.00,139.33 L90.00,139.33 L91.00,139.32 L92.00,139.32 L93.00,139.31 L94.00,139.31 L95.00,139.31 L96.00,139.30 L97.00,139.30 L98.00,139.30 L99.00,139.30 L100.00,139.30 L101.00,139.30 L102.00,139.30 L103.00,139.30 L104.00,139.30 L105.00,139.30 L106.00,139.30 L107.00,139.30 L108.00,139.30 L109.00,139.30 L110.00,139.30 L111.00,139.30 L112.00,139.30 L113.00,139.30 L114.00,139.30 L115.00,139.30 L116.00,139.30 L117.00,139.30 L118.00,139.30 L119.00,139.30 L120.00,139.30 L121.00,139.30 L122.00,139.30 L123.00,139.30 L124.00,139.30 L125.00,139.30 L126.00,139.30 L127.00,139.30 L128.00,139.30 L129.00,139.30 L130.00,139.30 L131.00,139.30 L132.00,139.30 L133.00,139.30 L134.00,139.30 L135.00,139.30 L136.00,139.30 L137.00,139.30 L138.00,139.30 L139.00,139.30 L140.00,139.30 L141.00,139.30 L142.00,139.30 L143.00,139.30 L144.00,139.30 L145.00,139.30 L146.00,139.30 L147.00,139.30 L148.00,139.30 L149.00,139.30 L150.00,139.30 L151.00,139.30 L152.00,139.30 L153.00,139.30 L154.00,139.30 L155.00,139.30 L156.00,139.30 L157.00,139.30 L158.00,139.30 L159.00,139.30 L160.00,139.30 L161.00,139.30 L162.00,139.30 L163.00,139.30 L164.00,139.30 L165.00,139.30 L166.00,139.30 L167.00,139.30 L168.00,139.30 L169.00,139.30 L170.00,139.30 L171.00,139.30 L172.00,139.30 L173.00,139.30 L174.00,139.30 L175.00,139.30 L176.00,139.30 L177.00,139.30 L178.00,139.30 L179.00,139.30 L180.00,139.30 L181.00,139.30 L182.00,139.30 L183.00,139.30 L184.00,139.30 L185.00,139.30 L186.00,139.30 L187.00,139.30 L188.00,139.30 L189.00,139.30 L190.00,139.30 L191.00,139.30 L192.00,139.30 L193.00,139.30 L194.00,139.30 L195.00,139.30 L196.00,139.30 L197.00,139.30 L198.00,139.30 L199.00,139.30 L200.00,139.30 L201.00,139.30 L202.00,139.30 L203.00,139.30 L204.00,139.30 L205.00,139.30 L206.00,139.30 L207.00,139.30 L208.00,139.30 L209.00,139.30 L210.00,139.30 L211.00,139.30 L212.00,139.30 L213.00,139.30 L214.00,139.30 L215.00,139.30 L216.00,139.30 L217.00,139.30 L218.00,139.30 L219.00,139.30 L220.00,139.30 L221.00,139.30 L222.00,139.30 L223.00,139.30 L224.00,139.30 L225.00,139.30 L226.00,139.30 L227.00,139.30 L228.00,139.30 L229.00,139.30 L230.00,139.30 L231.00,139.30 L232.00,139.30 L233.00,139.30 L234.00,139.30 L235.00,139.30 L236.00,139.30 L237.00,139.30 L238.00,139.30 L239.00,139.30 L240.00,139.30 L241.00,139.30 L242.00,139.30 L243.00,139.30 L244.00,139.30 L245.00,139.30 L246.00,139.30 L247.00,139.30 L248.00,139.30 L249.00,139.30" stroke="#1818ff" stroke-dasharray="4.6 1.8 1.2 1.8"/>
<path d="M32.00,120.90 L33.00,120.48 L34.00,120.07 L35.00,119.66 L36.00,119.25 L37.00,118.85 L38.00,118.46 L39.00,118.08 L40.00,117.70 L41.00,117.33 L42.00,116.96 L43.00,116.59 L44.00,116.23 L45.00,115.87 L46.00,115.52 L47.00,115.18 L48.00,114.84 L49.00,114.52 L50.00,114.20 L51.00,113.89 L52.00,113.57 L53.00,113.25 L54.00,112.93 L55.00,112.63 L56.00,112.34 L57.00,112.07 L58.00,111.82 L59.00,111.59 L60.00,111.40 L61.00,111.22 L62.00,111.05 L63.00,110.90 L64.00,110.77 L65.00,110.66 L66.00,110.60 L67.00,110.56 L68.00,110.53 L69.00,110.50 L70.00,110.47 L71.00,110.44 L72.00,110.42 L73.00,110.40 L74.00,110.39 L75.00,110.37 L76.00,110.35 L77.00,110.34 L78.00,110.33 L79.00,110.31 L80.00,110.30 L81.00,110.29 L82.00,110.27 L83.00,110.26 L84.00,110.25 L85.00,110.24 L86.00,110.23 L87.00,110.22 L88.00,110.21 L89.00,110.20 L90.00,110.19 L91.00,110.18 L92.00,110.17 L93.00,110.16 L94.00,110.16 L95.00,110.15 L96.00,110.14 L97.00,110.13 L98.00,110.12 L99.00,110.11 L100.00,110.10 L101.00,110.09 L102.00,110.08 L103.00,110.07 L104.00,110.06 L105.00,110.05 L106.00,110.04 L107.00,110.03 L108.00,110.02 L109.00,110.01 L110.00,110.00 L111.00,109.99 L112.00,109.98 L113.00,109.97 L114.00,109.96 L115.00,109.95 L116.00,109.94 L117.00,109.93 L118.00,109.92 L119.00,109.91 L120.00,109.89 L121.00,109.88 L122.00,109.87 L123.00,109.86 L124.00,109.85 L125.00,109.84 L126.00,109.83 L127.00,109.82 L128.00,109.81 L129.00,109.80 L130.00,109.79 L131.00,109.78 L132.00,109.77 L133.00,109.76 L134.00,109.75 L135.00,109.74 L136.00,109.73 L137.00,109.72 L138.00,109.71 L139.00,109.70 L140.00,109.69 L141.00,109.68 L142.00,109.67 L143.00,109.66 L144.00,109.65 L145.00,109.65 L146.00,109.64 L147.00,109.63 L148.00,109.62 L149.00,109.61 L150.00,109.60 L151.00,109.59 L152.00,109.58 L153.00,109.57 L154.00,109.56 L155.00,109.56 L156.00,109.55 L157.00,109.54 L158.00,109.53 L159.00,109.52 L160.00,109.51 L161.00,109.50 L162.00,109.49 L163.00,109.48 L164.00,109.47 L165.00,109.47 L166.00,109.46 L167.00,109.45 L168.00,109.44 L169.00,109.43 L170.00,109.42 L171.00,109.41 L172.00,109.40 L173.00,109.40 L174.00,109.39 L175.00,109.38 L176.00,109.37 L177.00,109.36 L178.00,109.35 L179.00,109.35 L180.00,109.34 L181.00,109.33 L182.00,109.32 L183.00,109.31 L184.00,109.31 L185.00,109.30 L186.00,109.29 L187.00,109.28 L188.00,109.28 L189.00,109.27 L190.00,109.26 L191.00,109.26 L192.00,109.25 L193.00,109.24 L194.00,109.24 L195.00,109.23 L196.00,109.22 L197.00,109.22 L198.00,109.21 L199.00,109.21 L200.00,109.20 L201.00,109.19 L202.00,109.19 L203.00,109.18 L204.00,109.18 L205.00,109.17 L206.00,109.17 L207.00,109.16 L208.00,109.16 L209.00,109.15 L210.00,109.15 L211.00,109.14 L212.00,109.14 L213.00,109.13 L214.00,109.13 L215.00,109.12 L216.00,109.12 L217.00,109.11 L218.00,109.11 L219.00,109.10 L220.00,109.10 L221.00,109.10 L222.00,109.09 L223.00,109.09 L224.00,109.08 L225.00,109.08 L226.00,109.07 L227.00,109.07 L228.00,109.07 L229.00,109.06 L230.00,109.06 L231.00,109.05 L232.00,109.05 L233.00,109.05 L234.00,109.04 L235.00,109.04 L236.00,109.04 L237.00,109.03 L238.00,109.03 L239.00,109.03 L240.00,109.02 L241.00,109.02 L242.00,109.02 L243.00,109.01 L244.00,109.01 L245.00,109.01 L246.00,109.01 L247.00,109.00 L248.00,109.00 L249.00,109.00" stroke="#404040" stroke-dasharray="4.6 1.8 1.2 1.8"/>
<path d="M32.00,90.80 L33.00,90.20 L34.00,89.60 L35.00,89.01 L36.00,88.43 L37.00,87.86 L38.00,87.30 L39.00,86.75 L40.00,86.22 L41.00,85.70 L42.00,85.18 L43.00,84.66 L44.00,84.14 L45.00,83.60 L46.00,83.05 L47.00,82.47 L48.00,81.88 L49.00,81.29 L50.00,80.70 L51.00,80.12 L52.00,79.55 L53.00,79.00 L54.00,78.48 L55.00,78.00 L56.00,77.53 L57.00,77.06 L58.00,76.60 L59.00,76.17 L60.00,75.76 L61.00,75.41 L62.00,75.12 L63.00,74.89 L64.00,74.68 L65.00,74.49 L66.00,74.31 L67.00,74.14 L68.00,73.99 L69.00,73.86 L70.00,73.75 L71.00,73.66 L72.00,73.60 L73.00,73.55 L74.00,73.51 L75.00,73.47 L76.00,73.43 L77.00,73.40 L78.00,73.37 L79.00,73.34 L80.00,73.32 L81.00,73.29 L82.00,73.27 L83.00,73.25 L84.00,73.22 L85.00,73.20 L86.00,73.18 L87.00,73.15 L88.00,73.13 L89.00,73.11 L90.00,73.09 L91.00,73.07 L92.00,73.06 L93.00,73.04 L94.00,73.02 L95.00,73.00 L96.00,72.98 L97.00,72.96 L98.00,72.94 L99.00,72.92 L100.00,72.90 L101.00,72.88 L102.00,72.85 L103.00,72.83 L104.00,72.81 L105.00,72.78 L106.00,72.76 L107.00,72.73 L108.00,72.71 L109.00,72.68 L110.00,72.66 L111.00,72.63 L112.00,72.60 L113.00,72.58 L114.00,72.55 L115.00,72.52 L116.00,72.49 L117.00,72.47 L118.00,72.44 L119.00,72.41 L120.00,72.38 L121.00,72.36 L122.00,72.33 L123.00,72.30 L124.00,72.27 L125.00,72.24 L126.00,72.21 L127.00,72.19 L128.00,72.16 L129.00,72.13 L130.00,72.10 L131.00,72.07 L132.00,72.04 L133.00,72.01 L134.00,71.98 L135.00,71.95 L136.00,71.92 L137.00,71.89 L138.00,71.85 L139.00,71.82 L140.00,71.79 L141.00,71.76 L142.00,71.73 L143.00,71.70 L144.00,71.67 L145.00,71.64 L146.00,71.61 L147.00,71.58 L148.00,71.55 L149.00,71.52 L150.00,71.50 L151.00,71.48 L152.00,71.45 L153.00,71.43 L154.00,71.41 L155.00,71.38 L156.00,71.36 L157.00,71.34 L158.00,71.32 L159.00,71.30 L160.00,71.27 L161.00,71.25 L162.00,71.23 L163.00,71.21 L164.00,71.19 L165.00,71.17 L166.00,71.15 L167.00,71.13 L168.00,71.12 L169.00,71.10 L170.00,71.08 L171.00,71.06 L172.00,71.04 L173.00,71.02 L174.00,71.01 L175.00,70.99 L176.00,70.97 L177.00,70.95 L178.00,70.93 L179.00,70.92 L180.00,70.90 L181.00,70.88 L182.00,70.87 L183.00,70.85 L184.00,70.83 L185.00,70.82 L186.00,70.80 L187.00,70.78 L188.00,70.77 L189.00,70.75 L190.00,70.74 L191.00,70.72 L192.00,70.71 L193.00,70.69 L194.00,70.67 L195.00,70.66 L196.00,70.64 L197.00,70.63 L198.00,70.61 L199.00,70.60 L200.00,70.59 L201.00,70.57 L202.00,70.56 L203.00,70.54 L204.00,70.53 L205.00,70.51 L206.00,70.50 L207.00,70.48 L208.00,70.47 L209.00,70.46 L210.00,70.44 L211.00,70.43 L212.00,70.41 L213.00,70.40 L214.00,70.39 L215.00,70.37 L216.00,70.36 L217.00,70.34 L218.00,70.33 L219.00,70.31 L220.00,70.30 L221.00,70.29 L222.00,70.27 L223.00,70.26 L224.00,70.24 L225.00,70.23 L226.00,70.21 L227.00,70.20 L228.00,70.19 L229.00,70.17 L230.00,70.16 L231.00,70.14 L232.00,70.13 L233.00,70.12 L234.00,70.10 L235.00,70.09 L236.00,70.08 L237.00,70.06 L238.00,70.05 L239.00,70.03 L240.00,70.02 L241.00,70.01 L242.00,69.99 L243.00,69.98 L244.00,69.97 L245.00,69.95 L246.00,69.94 L247.00,69.93 L248.00,69.91 L249.00,69.90" stroke="#ff8408" stroke-dasharray="4.6 1.8 1.2 1.8"/>
<path d="M32.00,72.50 L33.00,71.84 L34.00,71.17 L35.00,70.50 L36.00,69.84 L37.00,69.17 L38.00,68.50 L39.00,67.82 L40.00,67.14 L41.00,66.45 L42.00,65.77 L43.00,65.09 L44.00,64.44 L45.00,63.80 L46.00,63.18 L47.00,62.57 L48.00,61.97 L49.00,61.37 L50.00,60.79 L51.00,60.22 L52.00,59.67 L53.00,59.13 L54.00,58.60 L55.00,58.08 L56.00,57.56 L57.00,57.05 L58.00,56.55 L59.00,56.07 L60.00,55.61 L61.00,55.18 L62.00,54.78 L63.00,54.42 L64.00,54.07 L65.00,53.73 L66.00,53.40 L67.00,53.10 L68.00,52.83 L69.00,52.60 L70.00,52.40 L71.00,52.23 L72.00,52.08 L73.00,51.94 L74.00,51.80 L75.00,51.68 L76.00,51.57 L77.00,51.47 L78.00,51.37 L79.00,51.28 L80.00,51.20 L81.00,51.12 L82.00,51.05 L83.00,50.98 L84.00,50.92 L85.00,50.86 L86.00,50.80 L87.00,50.75 L88.00,50.69 L89.00,50.64 L90.00,50.59 L91.00,50.55 L92.00,50.50 L93.00,50.45 L94.00,50.41 L95.00,50.37 L96.00,50.33 L97.00,50.29 L98.00,50.26 L99.00,50.22 L100.00,50.18 L101.00,50.15 L102.00,50.11 L103.00,50.08 L104.00,50.04 L105.00,50.00 L106.00,49.96 L107.00,49.92 L108.00,49.88 L109.00,49.84 L110.00,49.80 L111.00,49.76 L112.00,49.72 L113.00,49.68 L114.00,49.64 L115.00,49.60 L116.00,49.56 L117.00,49.52 L118.00,49.48 L119.00,49.44 L120.00,49.40 L121.00,49.36 L122.00,49.32 L123.00,49.28 L124.00,49.24 L125.00,49.20 L126.00,49.16 L127.00,49.12 L128.00,49.08 L129.00,49.04 L130.00,49.00 L131.00,48.96 L132.00,48.92 L133.00,48.88 L134.00,48.84 L135.00,48.79 L136.00,48.75 L137.00,48.71 L138.00,48.67 L139.00,48.62 L140.00,48.58 L141.00,48.54 L142.00,48.50 L143.00,48.46 L144.00,48.42 L145.00,48.38 L146.00,48.34 L147.00,48.30 L148.00,48.27 L149.00,48.23 L150.00,48.20 L151.00,48.17 L152.00,48.14 L153.00,48.10 L154.00,48.07 L155.00,48.04 L156.00,48.01 L157.00,47.98 L158.00,47.95 L159.00,47.92 L160.00,47.90 L161.00,47.87 L162.00,47.84 L163.00,47.81 L164.00,47.79 L165.00,47.76 L166.00,47.73 L167.00,47.71 L168.00,47.68 L169.00,47.66 L170.00,47.63 L171.00,47.61 L172.00,47.58 L173.00,47.56 L174.00,47.53 L175.00,47.51 L176.00,47.49 L177.00,47.47 L178.00,47.44 L179.00,47.42 L180.00,47.40 L181.00,47.38 L182.00,47.36 L183.00,47.34 L184.00,47.32 L185.00,47.30 L186.00,47.28 L187.00,47.26 L188.00,47.24 L189.00,47.22 L190.00,47.20 L191.00,47.18 L192.00,47.17 L193.00,47.15 L194.00,47.13 L195.00,47.11 L196.00,47.10 L197.00,47.08 L198.00,47.06 L199.00,47.05 L200.00,47.03 L201.00,47.01 L202.00,47.00 L203.00,46.98 L204.00,46.96 L205.00,46.95 L206.00,46.93 L207.00,46.92 L208.00,46.90 L209.00,46.88 L210.00,46.87 L211.00,46.85 L212.00,46.83 L213.00,46.82 L214.00,46.80 L215.00,46.78 L216.00,46.77 L217.00,46.75 L218.00,46.73 L219.00,46.72 L220.00,46.70 L221.00,46.68 L222.00,46.67 L223.00,46.65 L224.00,46.63 L225.00,46.61 L226.00,46.60 L227.00,46.58 L228.00,46.56 L229.00,46.54 L230.00,46.53 L231.00,46.51 L232.00,46.49 L233.00,46.48 L234.00,46.46 L235.00,46.44 L236.00,46.42 L237.00,46.41 L238.00,46.39 L239.00,46.37 L240.00,46.35 L241.00,46.34 L242.00,46.32 L243.00,46.30 L244.00,46.29 L245.00,46.27 L246.00,46.25 L247.00,46.23 L248.00,46.22 L249.00,46.20" stroke="#ff08ff" stroke-dasharray="4.6 1.8 1.2 1.8"/>
<path d="M32.00,61.20 L33.00,60.60 L34.00,60.00 L35.00,59.39 L36.00,58.77 L37.00,58.14 L38.00,57.50 L39.00,56.86 L40.00,56.20 L41.00,55.55 L42.00,54.88 L43.00,54.20 L44.00,53.51 L45.00,52.80 L46.00,52.05 L47.00,51.27 L48.00,50.48 L49.00,49.71 L50.00,49.00 L51.00,48.34 L52.00,47.72 L53.00,47.12 L54.00,46.55 L55.00,46.00 L56.00,45.48 L57.00,44.97 L58.00,44.49 L59.00,44.04 L60.00,43.60 L61.00,43.18 L62.00,42.78 L63.00,42.40 L64.00,42.04 L65.00,41.70 L66.00,41.38 L67.00,41.08 L68.00,40.80 L69.00,40.54 L70.00,40.30 L71.00,40.08 L72.00,39.88 L73.00,39.69 L74.00,39.51 L75.00,39.35 L76.00,39.20 L77.00,39.06 L78.00,38.94 L79.00,38.82 L80.00,38.71 L81.00,38.61 L82.00,38.51 L83.00,38.40 L84.00,38.30 L85.00,38.20 L86.00,38.10 L87.00,37.99 L88.00,37.89 L89.00,37.79 L90.00,37.69 L91.00,37.59 L92.00,37.50 L93.00,37.41 L94.00,37.32 L95.00,37.23 L96.00,37.14 L97.00,37.06 L98.00,36.98 L99.00,36.89 L100.00,36.81 L101.00,36.73 L102.00,36.65 L103.00,36.56 L104.00,36.48 L105.00,36.40 L106.00,36.32 L107.00,36.23 L108.00,36.15 L109.00,36.07 L110.00,35.98 L111.00,35.90 L112.00,35.82 L113.00,35.73 L114.00,35.65 L115.00,35.57 L116.00,35.49 L117.00,35.42 L118.00,35.34 L119.00,35.27 L120.00,35.20 L121.00,35.13 L122.00,35.07 L123.00,35.00 L124.00,34.94 L125.00,34.88 L126.00,34.82 L127.00,34.76 L128.00,34.70 L129.00,34.64 L130.00,34.58 L131.00,34.53 L132.00,34.47 L133.00,34.41 L134.00,34.36 L135.00,34.30 L136.00,34.24 L137.00,34.19 L138.00,34.13 L139.00,34.08 L140.00,34.02 L141.00,33.97 L142.00,33.91 L143.00,33.86 L144.00,33.81 L145.00,33.75 L146.00,33.70 L147.00,33.65 L148.00,33.60 L149.00,33.55 L150.00,33.50 L151.00,33.45 L152.00,33.40 L153.00,33.35 L154.00,33.30 L155.00,33.25 L156.00,33.20 L157.00,33.15 L158.00,33.10 L159.00,33.06 L160.00,33.01 L161.00,32.96 L162.00,32.92 L163.00,32.87 L164.00,32.83 L165.00,32.79 L166.00,32.74 L167.00,32.71 L168.00,32.67 L169.00,32.63 L170.00,32.60 L171.00,32.57 L172.00,32.54 L173.00,32.51 L174.00,32.48 L175.00,32.45 L176.00,32.43 L177.00,32.40 L178.00,32.37 L179.00,32.35 L180.00,32.33 L181.00,32.30 L182.00,32.28 L183.00,32.26 L184.00,32.23 L185.00,32.21 L186.00,32.19 L187.00,32.17 L188.00,32.14 L189.00,32.12 L190.00,32.10 L191.00,32.08 L192.00,32.06 L193.00,32.03 L194.00,32.01 L195.00,31.99 L196.00,31.97 L197.00,31.95 L198.00,31.93 L199.00,31.91 L200.00,31.89 L201.00,31.87 L202.00,31.85 L203.00,31.83 L204.00,31.81 L205.00,31.79 L206.00,31.77 L207.00,31.75 L208.00,31.73 L209.00,31.71 L210.00,31.69 L211.00,31.67 L212.00,31.65 L213.00,31.63 L214.00,31.61 L215.00,31.59 L216.00,31.57 L217.00,31.56 L218.00,31.54 L219.00,31.52 L220.00,31.50 L221.00,31.48 L222.00,31.46 L223.00,31.44 L224.00,31.43 L225.00,31.41 L226.00,31.39 L227.00,31.37 L228.00,31.35 L229.00,31.34 L230.00,31.32 L231.00,31.30 L232.00,31.28 L233.00,31.27 L234.00,31.25 L235.00,31.23 L236.00,31.21 L237.00,31.20 L238.00,31.18 L239.00,31.16 L240.00,31.15 L241.00,31.13 L242.00,31.11 L243.00,31.10 L244.00,31.08 L245.00,31.06 L246.00,31.05 L247.00,31.03 L248.00,31.02 L249.00,31.00" stroke="#d00808" stroke-dasharray="4.6 1.8 1.2 1.8"/>
<path d="M32.00,49.00 L33.00,48.23 L34.00,47.47 L35.00,46.71 L36.00,45.97 L37.00,45.23 L38.00,44.50 L39.00,43.78 L40.00,43.08 L41.00,42.38 L42.00,41.69 L43.00,41.00 L44.00,40.30 L45.00,39.60 L46.00,38.88 L47.00,38.15 L48.00,37.42 L49.00,36.69 L50.00,35.97 L51.00,35.27 L52.00,34.60 L53.00,33.95 L54.00,33.32 L55.00,32.70 L56.00,32.11 L57.00,31.54 L58.00,31.00 L59.00,30.49 L60.00,30.00 L61.00,29.53 L62.00,29.10 L63.00,28.71 L64.00,28.33 L65.00,27.97 L66.00,27.63 L67.00,27.30 L68.00,26.99 L69.00,26.69 L70.00,26.40 L71.00,26.12 L72.00,25.85 L73.00,25.58 L74.00,25.33 L75.00,25.08 L76.00,24.84 L77.00,24.61 L78.00,24.40 L79.00,24.19 L80.00,24.00 L81.00,23.82 L82.00,23.65 L83.00,23.50 L84.00,23.35 L85.00,23.20 L86.00,23.06 L87.00,22.92 L88.00,22.78 L89.00,22.64 L90.00,22.50 L91.00,22.35 L92.00,22.20 L93.00,22.06 L94.00,21.91 L95.00,21.76 L96.00,21.62 L97.00,21.48 L98.00,21.34 L99.00,21.22 L100.00,21.10 L101.00,20.99 L102.00,20.88 L103.00,20.78 L104.00,20.67 L105.00,20.57 L106.00,20.48 L107.00,20.38 L108.00,20.29 L109.00,20.20 L110.00,20.11 L111.00,20.02 L112.00,19.94 L113.00,19.85 L114.00,19.77 L115.00,19.69 L116.00,19.61 L117.00,19.53 L118.00,19.45 L119.00,19.38 L120.00,19.30 L121.00,19.23 L122.00,19.15 L123.00,19.08 L124.00,19.02 L125.00,18.95 L126.00,18.88 L127.00,18.82 L128.00,18.76 L129.00,18.69 L130.00,18.63 L131.00,18.57 L132.00,18.50 L133.00,18.44 L134.00,18.37 L135.00,18.30 L136.00,18.23 L137.00,18.16 L138.00,18.08 L139.00,18.01 L140.00,17.93 L141.00,17.86 L142.00,17.78 L143.00,17.71 L144.00,17.63 L145.00,17.55 L146.00,17.48 L147.00,17.41 L148.00,17.34 L149.00,17.27 L150.00,17.20 L151.00,17.13 L152.00,17.07 L153.00,17.00 L154.00,16.94 L155.00,16.87 L156.00,16.81 L157.00,16.74 L158.00,16.68 L159.00,16.62 L160.00,16.55 L161.00,16.49 L162.00,16.43 L163.00,16.37 L164.00,16.32 L165.00,16.26 L166.00,16.21 L167.00,16.15 L168.00,16.10 L169.00,16.05 L170.00,16.00 L171.00,15.95 L172.00,15.91 L173.00,15.86 L174.00,15.81 L175.00,15.77 L176.00,15.73 L177.00,15.68 L178.00,15.64 L179.00,15.60 L180.00,15.56 L181.00,15.52 L182.00,15.48 L183.00,15.44 L184.00,15.41 L185.00,15.37 L186.00,15.34 L187.00,15.30 L188.00,15.27 L189.00,15.23 L190.00,15.20 L191.00,15.17 L192.00,15.14 L193.00,15.11 L194.00,15.08 L195.00,15.05 L196.00,15.02 L197.00,14.99 L198.00,14.96 L199.00,14.93 L200.00,14.90 L201.00,14.88 L202.00,14.85 L203.00,14.83 L204.00,14.80 L205.00,14.77 L206.00,14.75 L207.00,14.72 L208.00,14.70 L209.00,14.67 L210.00,14.65 L211.00,14.62 L212.00,14.60 L213.00,14.57 L214.00,14.55 L215.00,14.52 L216.00,14.50 L217.00,14.48 L218.00,14.45 L219.00,14.43 L220.00,14.40 L221.00,14.37 L222.00,14.35 L223.00,14.32 L224.00,14.30 L225.00,14.27 L226.00,14.25 L227.00,14.22 L228.00,14.20 L229.00,14.18 L230.00,14.15 L231.00,14.13 L232.00,14.10 L233.00,14.08 L234.00,14.05 L235.00,14.03 L236.00,14.01 L237.00,13.98 L238.00,13.96 L239.00,13.93 L240.00,13.91 L241.00,13.89 L242.00,13.86 L243.00,13.84 L244.00,13.82 L245.00,13.79 L246.00,13.77 L247.00,13.75 L248.00,13.72 L249.00,13.70" stroke="#08c808" stroke-dasharray="4.6 1.8 1.2 1.8"/>
</g>
<path d="M32.00,10.10 V189.80 M31.35,189.15 H249.80 M249.15,189.80 V10.10 M249.80,10.75 H31.35" fill="none" stroke="#0a0a0a" stroke-width="1.3"/>
<line x1="361.50" y1="10.55" x2="361.50" y2="189.35" stroke="#cbcbcb" stroke-width="1"/>
<line x1="397.50" y1="10.55" x2="397.50" y2="189.35" stroke="#cbcbcb" stroke-width="1"/>
<line x1="434.50" y1="10.55" x2="434.50" y2="189.35" stroke="#cbcbcb" stroke-width="1"/>
<line x1="470.50" y1="10.55" x2="470.50" y2="189.35" stroke="#cbcbcb" stroke-width="1"/>
<line x1="506.50" y1="10.55" x2="506.50" y2="189.35" stroke="#cbcbcb" stroke-width="1"/>
<line x1="325.5" y1="179.50" x2="542.7" y2="179.50" stroke="#cbcbcb" stroke-width="1"/>
<line x1="325.5" y1="104.50" x2="542.7" y2="104.50" stroke="#cbcbcb" stroke-width="1"/>
<line x1="325.5" y1="67.50" x2="542.7" y2="67.50" stroke="#cbcbcb" stroke-width="1"/>
<line x1="325.5" y1="29.50" x2="542.7" y2="29.50" stroke="#cbcbcb" stroke-width="1"/>
<line x1="325.50" y1="189.35" x2="325.50" y2="187.35" stroke="#a8a8a8" stroke-width="0.7"/>
<line x1="332.74" y1="189.35" x2="332.74" y2="187.35" stroke="#a8a8a8" stroke-width="0.7"/>
<line x1="339.98" y1="189.35" x2="339.98" y2="187.35" stroke="#a8a8a8" stroke-width="0.7"/>
<line x1="347.22" y1="189.35" x2="347.22" y2="187.35" stroke="#a8a8a8" stroke-width="0.7"/>
<line x1="354.46" y1="189.35" x2="354.46" y2="187.35" stroke="#a8a8a8" stroke-width="0.7"/>
<line x1="361.70" y1="189.35" x2="361.70" y2="187.35" stroke="#a8a8a8" stroke-width="0.7"/>
<line x1="368.94" y1="189.35" x2="368.94" y2="187.35" stroke="#a8a8a8" stroke-width="0.7"/>
<line x1="376.18" y1="189.35" x2="376.18" y2="187.35" stroke="#a8a8a8" stroke-width="0.7"/>
<line x1="383.42" y1="189.35" x2="383.42" y2="187.35" stroke="#a8a8a8" stroke-width="0.7"/>
<line x1="390.66" y1="189.35" x2="390.66" y2="187.35" stroke="#a8a8a8" stroke-width="0.7"/>
<line x1="397.90" y1="189.35" x2="397.90" y2="187.35" stroke="#a8a8a8" stroke-width="0.7"/>
<line x1="405.14" y1="189.35" x2="405.14" y2="187.35" stroke="#a8a8a8" stroke-width="0.7"/>
<line x1="412.38" y1="189.35" x2="412.38" y2="187.35" stroke="#a8a8a8" stroke-width="0.7"/>
<line x1="419.62" y1="189.35" x2="419.62" y2="187.35" stroke="#a8a8a8" stroke-width="0.7"/>
<line x1="426.86" y1="189.35" x2="426.86" y2="187.35" stroke="#a8a8a8" stroke-width="0.7"/>
<line x1="434.10" y1="189.35" x2="434.10" y2="187.35" stroke="#a8a8a8" stroke-width="0.7"/>
<line x1="441.34" y1="189.35" x2="441.34" y2="187.35" stroke="#a8a8a8" stroke-width="0.7"/>
<line x1="448.58" y1="189.35" x2="448.58" y2="187.35" stroke="#a8a8a8" stroke-width="0.7"/>
<line x1="455.82" y1="189.35" x2="455.82" y2="187.35" stroke="#a8a8a8" stroke-width="0.7"/>
<line x1="463.06" y1="189.35" x2="463.06" y2="187.35" stroke="#a8a8a8" stroke-width="0.7"/>
<line x1="470.30" y1="189.35" x2="470.30" y2="187.35" stroke="#a8a8a8" stroke-width="0.7"/>
<line x1="477.54" y1="189.35" x2="477.54" y2="187.35" stroke="#a8a8a8" stroke-width="0.7"/>
<line x1="484.78" y1="189.35" x2="484.78" y2="187.35" stroke="#a8a8a8" stroke-width="0.7"/>
<line x1="492.02" y1="189.35" x2="492.02" y2="187.35" stroke="#a8a8a8" stroke-width="0.7"/>
<line x1="499.26" y1="189.35" x2="499.26" y2="187.35" stroke="#a8a8a8" stroke-width="0.7"/>
<line x1="506.50" y1="189.35" x2="506.50" y2="187.35" stroke="#a8a8a8" stroke-width="0.7"/>
<line x1="513.74" y1="189.35" x2="513.74" y2="187.35" stroke="#a8a8a8" stroke-width="0.7"/>
<line x1="520.98" y1="189.35" x2="520.98" y2="187.35" stroke="#a8a8a8" stroke-width="0.7"/>
<line x1="528.22" y1="189.35" x2="528.22" y2="187.35" stroke="#a8a8a8" stroke-width="0.7"/>
<line x1="535.46" y1="189.35" x2="535.46" y2="187.35" stroke="#a8a8a8" stroke-width="0.7"/>
<line x1="542.70" y1="189.35" x2="542.70" y2="187.35" stroke="#a8a8a8" stroke-width="0.7"/>
<line x1="325.5" y1="179.94" x2="327.5" y2="179.94" stroke="#a8a8a8" stroke-width="0.7"/>
<line x1="325.5" y1="170.53" x2="327.5" y2="170.53" stroke="#a8a8a8" stroke-width="0.7"/>
<line x1="325.5" y1="161.12" x2="327.5" y2="161.12" stroke="#a8a8a8" stroke-width="0.7"/>
<line x1="325.5" y1="151.71" x2="327.5" y2="151.71" stroke="#a8a8a8" stroke-width="0.7"/>
<line x1="325.5" y1="142.30" x2="327.5" y2="142.30" stroke="#a8a8a8" stroke-width="0.7"/>
<line x1="325.5" y1="132.89" x2="327.5" y2="132.89" stroke="#a8a8a8" stroke-width="0.7"/>
<line x1="325.5" y1="123.48" x2="327.5" y2="123.48" stroke="#a8a8a8" stroke-width="0.7"/>
<line x1="325.5" y1="114.07" x2="327.5" y2="114.07" stroke="#a8a8a8" stroke-width="0.7"/>
<line x1="325.5" y1="104.66" x2="327.5" y2="104.66" stroke="#a8a8a8" stroke-width="0.7"/>
<line x1="325.5" y1="95.25" x2="327.5" y2="95.25" stroke="#a8a8a8" stroke-width="0.7"/>
<line x1="325.5" y1="85.84" x2="327.5" y2="85.84" stroke="#a8a8a8" stroke-width="0.7"/>
<line x1="325.5" y1="76.43" x2="327.5" y2="76.43" stroke="#a8a8a8" stroke-width="0.7"/>
<line x1="325.5" y1="67.02" x2="327.5" y2="67.02" stroke="#a8a8a8" stroke-width="0.7"/>
<line x1="325.5" y1="57.61" x2="327.5" y2="57.61" stroke="#a8a8a8" stroke-width="0.7"/>
<line x1="325.5" y1="48.20" x2="327.5" y2="48.20" stroke="#a8a8a8" stroke-width="0.7"/>
<line x1="325.5" y1="38.79" x2="327.5" y2="38.79" stroke="#a8a8a8" stroke-width="0.7"/>
<line x1="325.5" y1="29.38" x2="327.5" y2="29.38" stroke="#a8a8a8" stroke-width="0.7"/>
<line x1="325.5" y1="19.97" x2="327.5" y2="19.97" stroke="#a8a8a8" stroke-width="0.7"/>
<line x1="325.5" y1="10.56" x2="327.5" y2="10.56" stroke="#a8a8a8" stroke-width="0.7"/>
<line x1="325.50" y1="189.35" x2="325.50" y2="185.35" stroke="#000" stroke-width="1.2"/>
<line x1="361.70" y1="189.35" x2="361.70" y2="185.35" stroke="#000" stroke-width="1.2"/>
<line x1="397.90" y1="189.35" x2="397.90" y2="185.35" stroke="#000" stroke-width="1.2"/>
<line x1="434.10" y1="189.35" x2="434.10" y2="185.35" stroke="#000" stroke-width="1.2"/>
<line x1="470.30" y1="189.35" x2="470.30" y2="185.35" stroke="#000" stroke-width="1.2"/>
<line x1="506.50" y1="189.35" x2="506.50" y2="185.35" stroke="#000" stroke-width="1.2"/>
<line x1="542.70" y1="189.35" x2="542.70" y2="185.35" stroke="#000" stroke-width="1.2"/>
<line x1="325.5" y1="179.94" x2="329.9" y2="179.94" stroke="#000" stroke-width="1.2"/>
<line x1="325.5" y1="142.30" x2="329.9" y2="142.30" stroke="#000" stroke-width="1.2"/>
<line x1="325.5" y1="104.66" x2="329.9" y2="104.66" stroke="#000" stroke-width="1.2"/>
<line x1="325.5" y1="67.02" x2="329.9" y2="67.02" stroke="#000" stroke-width="1.2"/>
<line x1="325.5" y1="29.38" x2="329.9" y2="29.38" stroke="#000" stroke-width="1.2"/>
<text x="325.50" y="197.1" class="tk" text-anchor="middle">0</text>
<text x="361.70" y="197.1" class="tk" text-anchor="middle">0.5</text>
<text x="397.90" y="197.1" class="tk" text-anchor="middle">1</text>
<text x="434.10" y="197.1" class="tk" text-anchor="middle">1.5</text>
<text x="470.30" y="197.1" class="tk" text-anchor="middle">2</text>
<text x="506.50" y="197.1" class="tk" text-anchor="middle">2.5</text>
<text x="542.70" y="197.1" class="tk" text-anchor="middle">3</text>
<text x="322.20" y="182.19" class="tk" text-anchor="end">-0.2</text>
<text x="322.20" y="144.55" class="tk" text-anchor="end">0</text>
<text x="322.20" y="106.91" class="tk" text-anchor="end">0.2</text>
<text x="322.20" y="69.27" class="tk" text-anchor="end">0.4</text>
<text x="322.20" y="31.63" class="tk" text-anchor="end">0.6</text>
<line x1="325.5" y1="142.3" x2="542.7" y2="142.3" stroke="#000" stroke-width="1.25"/>
<g fill="none" stroke-width="1.3">
<path d="M336.20,177.20 L337.20,176.48 L338.20,175.76 L339.20,175.05 L340.20,174.34 L341.20,173.64 L342.20,172.94 L343.20,172.24 L344.20,171.55 L345.20,170.86 L346.20,170.18 L347.20,169.49 L348.20,168.82 L349.20,168.14 L350.20,167.48 L351.20,166.82 L352.20,166.17 L353.20,165.53 L354.20,164.88 L355.20,164.24 L356.20,163.60 L357.20,162.97 L358.20,162.35 L359.20,161.75 L360.20,161.16 L361.20,160.59 L362.20,160.04 L363.20,159.50 L364.20,158.97 L365.20,158.46 L366.20,157.95 L367.20,157.46 L368.20,156.97 L369.20,156.50 L370.20,156.03 L371.20,155.57 L372.20,155.13 L373.20,154.69 L374.20,154.26 L375.20,153.83 L376.20,153.41 L377.20,153.00 L378.20,152.60 L379.20,152.20 L380.20,151.82 L381.20,151.43 L382.20,151.06 L383.20,150.69 L384.20,150.33 L385.20,149.98 L386.20,149.63 L387.20,149.29 L388.20,148.96 L389.20,148.64 L390.20,148.32 L391.20,148.01 L392.20,147.71 L393.20,147.41 L394.20,147.12 L395.20,146.84 L396.20,146.57 L397.20,146.30 L398.20,146.04 L399.20,145.78 L400.20,145.52 L401.20,145.27 L402.20,145.03 L403.20,144.78 L404.20,144.54 L405.20,144.30 L406.20,144.07 L407.20,143.84 L408.20,143.61 L409.20,143.38 L410.20,143.15 L411.20,142.93 L412.20,142.71 L413.20,142.48 L414.20,142.26 L415.20,142.05 L416.20,141.83 L417.20,141.62 L418.20,141.41 L419.20,141.20 L420.20,141.00 L421.20,140.80 L422.20,140.60 L423.20,140.41 L424.20,140.22 L425.20,140.04 L426.20,139.86 L427.20,139.68 L428.20,139.50 L429.20,139.33 L430.20,139.16 L431.20,138.99 L432.20,138.83 L433.20,138.66 L434.20,138.50 L435.20,138.34 L436.20,138.19 L437.20,138.03 L438.20,137.88 L439.20,137.73 L440.20,137.58 L441.20,137.44 L442.20,137.29 L443.20,137.15 L444.20,137.01 L445.20,136.87 L446.20,136.74 L447.20,136.60 L448.20,136.46 L449.20,136.33 L450.20,136.20 L451.20,136.06 L452.20,135.93 L453.20,135.80 L454.20,135.67 L455.20,135.54 L456.20,135.42 L457.20,135.29 L458.20,135.17 L459.20,135.05 L460.20,134.93 L461.20,134.82 L462.20,134.70 L463.20,134.59 L464.20,134.48 L465.20,134.37 L466.20,134.27 L467.20,134.17 L468.20,134.07 L469.20,133.97 L470.20,133.88 L471.20,133.79 L472.20,133.70 L473.20,133.62 L474.20,133.53 L475.20,133.45 L476.20,133.37 L477.20,133.29 L478.20,133.21 L479.20,133.13 L480.20,133.05 L481.20,132.98 L482.20,132.90 L483.20,132.83 L484.20,132.76 L485.20,132.69 L486.20,132.62 L487.20,132.55 L488.20,132.48 L489.20,132.41 L490.20,132.34 L491.20,132.28 L492.20,132.21 L493.20,132.15 L494.20,132.08 L495.20,132.01 L496.20,131.95 L497.20,131.88 L498.20,131.82 L499.20,131.75 L500.20,131.69 L501.20,131.62 L502.20,131.56 L503.20,131.49 L504.20,131.43 L505.20,131.37 L506.20,131.30 L507.20,131.24 L508.20,131.18 L509.20,131.12 L510.20,131.06 L511.20,131.00 L512.20,130.94 L513.20,130.88 L514.20,130.82 L515.20,130.77 L516.20,130.71 L517.20,130.65 L518.20,130.60 L519.20,130.54 L520.20,130.49 L521.20,130.44 L522.20,130.38 L523.20,130.33 L524.20,130.28 L525.20,130.23 L526.20,130.18 L527.20,130.12 L528.20,130.07 L529.20,130.02 L530.20,129.98 L531.20,129.93 L532.20,129.88 L533.20,129.83 L534.20,129.78 L535.20,129.74 L536.20,129.69 L537.20,129.64 L538.20,129.60 L539.20,129.56 L540.20,129.51 L541.20,129.47 L542.20,129.43 L542.80,129.40" stroke="#c06418"/>
<path d="M336.20,182.00 L337.20,181.66 L338.20,181.32 L339.20,180.98 L340.20,180.64 L341.20,180.29 L342.20,179.95 L343.20,179.60 L344.20,179.25 L345.20,178.90 L346.20,178.54 L347.20,178.18 L348.20,177.81 L349.20,177.44 L350.20,177.06 L351.20,176.69 L352.20,176.31 L353.20,175.93 L354.20,175.56 L355.20,175.19 L356.20,174.82 L357.20,174.46 L358.20,174.10 L359.20,173.76 L360.20,173.42 L361.20,173.09 L362.20,172.77 L363.20,172.46 L364.20,172.16 L365.20,171.87 L366.20,171.58 L367.20,171.29 L368.20,171.01 L369.20,170.74 L370.20,170.47 L371.20,170.20 L372.20,169.93 L373.20,169.67 L374.20,169.41 L375.20,169.15 L376.20,168.89 L377.20,168.63 L378.20,168.38 L379.20,168.12 L380.20,167.87 L381.20,167.61 L382.20,167.36 L383.20,167.12 L384.20,166.87 L385.20,166.62 L386.20,166.38 L387.20,166.14 L388.20,165.90 L389.20,165.67 L390.20,165.44 L391.20,165.21 L392.20,164.98 L393.20,164.76 L394.20,164.54 L395.20,164.32 L396.20,164.11 L397.20,163.90 L398.20,163.69 L399.20,163.49 L400.20,163.29 L401.20,163.09 L402.20,162.90 L403.20,162.71 L404.20,162.52 L405.20,162.34 L406.20,162.16 L407.20,161.98 L408.20,161.80 L409.20,161.62 L410.20,161.45 L411.20,161.27 L412.20,161.10 L413.20,160.93 L414.20,160.77 L415.20,160.60 L416.20,160.44 L417.20,160.27 L418.20,160.11 L419.20,159.95 L420.20,159.79 L421.20,159.63 L422.20,159.48 L423.20,159.33 L424.20,159.17 L425.20,159.02 L426.20,158.87 L427.20,158.72 L428.20,158.57 L429.20,158.43 L430.20,158.28 L431.20,158.14 L432.20,158.00 L433.20,157.85 L434.20,157.71 L435.20,157.57 L436.20,157.43 L437.20,157.29 L438.20,157.16 L439.20,157.02 L440.20,156.89 L441.20,156.75 L442.20,156.62 L443.20,156.49 L444.20,156.36 L445.20,156.23 L446.20,156.10 L447.20,155.97 L448.20,155.84 L449.20,155.71 L450.20,155.59 L451.20,155.46 L452.20,155.34 L453.20,155.21 L454.20,155.09 L455.20,154.96 L456.20,154.84 L457.20,154.71 L458.20,154.59 L459.20,154.47 L460.20,154.34 L461.20,154.22 L462.20,154.09 L463.20,153.97 L464.20,153.84 L465.20,153.72 L466.20,153.59 L467.20,153.47 L468.20,153.34 L469.20,153.22 L470.20,153.10 L471.20,152.98 L472.20,152.86 L473.20,152.74 L474.20,152.62 L475.20,152.51 L476.20,152.40 L477.20,152.29 L478.20,152.18 L479.20,152.08 L480.20,151.98 L481.20,151.88 L482.20,151.79 L483.20,151.70 L484.20,151.61 L485.20,151.52 L486.20,151.43 L487.20,151.34 L488.20,151.26 L489.20,151.18 L490.20,151.10 L491.20,151.01 L492.20,150.93 L493.20,150.85 L494.20,150.77 L495.20,150.69 L496.20,150.61 L497.20,150.53 L498.20,150.45 L499.20,150.37 L500.20,150.28 L501.20,150.20 L502.20,150.11 L503.20,150.03 L504.20,149.94 L505.20,149.86 L506.20,149.77 L507.20,149.69 L508.20,149.60 L509.20,149.52 L510.20,149.43 L511.20,149.35 L512.20,149.26 L513.20,149.18 L514.20,149.10 L515.20,149.02 L516.20,148.94 L517.20,148.86 L518.20,148.79 L519.20,148.71 L520.20,148.64 L521.20,148.57 L522.20,148.50 L523.20,148.43 L524.20,148.36 L525.20,148.29 L526.20,148.22 L527.20,148.15 L528.20,148.09 L529.20,148.02 L530.20,147.96 L531.20,147.89 L532.20,147.83 L533.20,147.77 L534.20,147.70 L535.20,147.64 L536.20,147.58 L537.20,147.52 L538.20,147.46 L539.20,147.41 L540.20,147.35 L541.20,147.29 L542.20,147.24 L542.80,147.21" stroke="#404040"/>
<path d="M336.20,182.00 L337.20,181.66 L338.20,181.33 L339.20,180.99 L340.20,180.66 L341.20,180.32 L342.20,179.98 L343.20,179.64 L344.20,179.30 L345.20,178.96 L346.20,178.62 L347.20,178.27 L348.20,177.91 L349.20,177.55 L350.20,177.19 L351.20,176.83 L352.20,176.47 L353.20,176.11 L354.20,175.75 L355.20,175.40 L356.20,175.05 L357.20,174.70 L358.20,174.37 L359.20,174.04 L360.20,173.72 L361.20,173.41 L362.20,173.11 L363.20,172.82 L364.20,172.54 L365.20,172.27 L366.20,172.00 L367.20,171.74 L368.20,171.48 L369.20,171.22 L370.20,170.97 L371.20,170.72 L372.20,170.48 L373.20,170.23 L374.20,169.99 L375.20,169.75 L376.20,169.51 L377.20,169.27 L378.20,169.03 L379.20,168.80 L380.20,168.56 L381.20,168.32 L382.20,168.09 L383.20,167.86 L384.20,167.63 L385.20,167.40 L386.20,167.17 L387.20,166.95 L388.20,166.73 L389.20,166.51 L390.20,166.29 L391.20,166.08 L392.20,165.87 L393.20,165.66 L394.20,165.46 L395.20,165.26 L396.20,165.06 L397.20,164.87 L398.20,164.68 L399.20,164.49 L400.20,164.31 L401.20,164.13 L402.20,163.96 L403.20,163.78 L404.20,163.61 L405.20,163.44 L406.20,163.28 L407.20,163.11 L408.20,162.95 L409.20,162.79 L410.20,162.63 L411.20,162.48 L412.20,162.32 L413.20,162.17 L414.20,162.02 L415.20,161.87 L416.20,161.72 L417.20,161.57 L418.20,161.43 L419.20,161.28 L420.20,161.14 L421.20,161.00 L422.20,160.86 L423.20,160.72 L424.20,160.58 L425.20,160.45 L426.20,160.31 L427.20,160.18 L428.20,160.05 L429.20,159.92 L430.20,159.79 L431.20,159.66 L432.20,159.54 L433.20,159.42 L434.20,159.30 L435.20,159.18 L436.20,159.06 L437.20,158.94 L438.20,158.83 L439.20,158.72 L440.20,158.60 L441.20,158.49 L442.20,158.39 L443.20,158.28 L444.20,158.17 L445.20,158.07 L446.20,157.96 L447.20,157.86 L448.20,157.76 L449.20,157.65 L450.20,157.55 L451.20,157.45 L452.20,157.35 L453.20,157.25 L454.20,157.15 L455.20,157.05 L456.20,156.95 L457.20,156.85 L458.20,156.76 L459.20,156.66 L460.20,156.56 L461.20,156.46 L462.20,156.36 L463.20,156.27 L464.20,156.17 L465.20,156.07 L466.20,155.98 L467.20,155.88 L468.20,155.79 L469.20,155.70 L470.20,155.60 L471.20,155.51 L472.20,155.42 L473.20,155.32 L474.20,155.23 L475.20,155.14 L476.20,155.05 L477.20,154.96 L478.20,154.87 L479.20,154.77 L480.20,154.68 L481.20,154.59 L482.20,154.49 L483.20,154.39 L484.20,154.29 L485.20,154.19 L486.20,154.09 L487.20,153.99 L488.20,153.89 L489.20,153.79 L490.20,153.70 L491.20,153.60 L492.20,153.51 L493.20,153.41 L494.20,153.33 L495.20,153.24 L496.20,153.16 L497.20,153.08 L498.20,153.01 L499.20,152.95 L500.20,152.89 L501.20,152.83 L502.20,152.78 L503.20,152.72 L504.20,152.67 L505.20,152.62 L506.20,152.57 L507.20,152.53 L508.20,152.48 L509.20,152.44 L510.20,152.40 L511.20,152.36 L512.20,152.32 L513.20,152.28 L514.20,152.24 L515.20,152.21 L516.20,152.17 L517.20,152.14 L518.20,152.10 L519.20,152.07 L520.20,152.04 L521.20,152.01 L522.20,151.98 L523.20,151.95 L524.20,151.92 L525.20,151.89 L526.20,151.86 L527.20,151.83 L528.20,151.81 L529.20,151.78 L530.20,151.76 L531.20,151.73 L532.20,151.71 L533.20,151.68 L534.20,151.66 L535.20,151.64 L536.20,151.62 L537.20,151.59 L538.20,151.58 L539.20,151.56 L540.20,151.54 L541.20,151.52 L542.20,151.51 L542.80,151.50" stroke="#ff8408"/>
<path d="M336.20,182.00 L337.20,181.67 L338.20,181.35 L339.20,181.02 L340.20,180.69 L341.20,180.36 L342.20,180.03 L343.20,179.70 L344.20,179.37 L345.20,179.03 L346.20,178.70 L347.20,178.35 L348.20,178.00 L349.20,177.65 L350.20,177.30 L351.20,176.95 L352.20,176.59 L353.20,176.24 L354.20,175.89 L355.20,175.54 L356.20,175.20 L357.20,174.87 L358.20,174.54 L359.20,174.22 L360.20,173.90 L361.20,173.60 L362.20,173.31 L363.20,173.03 L364.20,172.76 L365.20,172.49 L366.20,172.23 L367.20,171.97 L368.20,171.72 L369.20,171.47 L370.20,171.23 L371.20,170.99 L372.20,170.75 L373.20,170.52 L374.20,170.29 L375.20,170.05 L376.20,169.82 L377.20,169.59 L378.20,169.36 L379.20,169.13 L380.20,168.91 L381.20,168.68 L382.20,168.46 L383.20,168.24 L384.20,168.02 L385.20,167.80 L386.20,167.58 L387.20,167.37 L388.20,167.16 L389.20,166.95 L390.20,166.74 L391.20,166.54 L392.20,166.34 L393.20,166.14 L394.20,165.95 L395.20,165.76 L396.20,165.57 L397.20,165.39 L398.20,165.21 L399.20,165.04 L400.20,164.86 L401.20,164.69 L402.20,164.53 L403.20,164.36 L404.20,164.20 L405.20,164.04 L406.20,163.89 L407.20,163.73 L408.20,163.58 L409.20,163.43 L410.20,163.29 L411.20,163.14 L412.20,163.00 L413.20,162.85 L414.20,162.71 L415.20,162.57 L416.20,162.43 L417.20,162.30 L418.20,162.16 L419.20,162.03 L420.20,161.89 L421.20,161.76 L422.20,161.63 L423.20,161.50 L424.20,161.38 L425.20,161.25 L426.20,161.13 L427.20,161.00 L428.20,160.88 L429.20,160.76 L430.20,160.64 L431.20,160.53 L432.20,160.41 L433.20,160.30 L434.20,160.19 L435.20,160.08 L436.20,159.97 L437.20,159.86 L438.20,159.76 L439.20,159.66 L440.20,159.55 L441.20,159.45 L442.20,159.35 L443.20,159.25 L444.20,159.16 L445.20,159.06 L446.20,158.96 L447.20,158.87 L448.20,158.77 L449.20,158.68 L450.20,158.59 L451.20,158.50 L452.20,158.40 L453.20,158.31 L454.20,158.22 L455.20,158.13 L456.20,158.04 L457.20,157.95 L458.20,157.86 L459.20,157.77 L460.20,157.68 L461.20,157.59 L462.20,157.50 L463.20,157.41 L464.20,157.33 L465.20,157.24 L466.20,157.15 L467.20,157.06 L468.20,156.98 L469.20,156.89 L470.20,156.81 L471.20,156.72 L472.20,156.64 L473.20,156.55 L474.20,156.47 L475.20,156.39 L476.20,156.31 L477.20,156.23 L478.20,156.14 L479.20,156.06 L480.20,155.98 L481.20,155.90 L482.20,155.82 L483.20,155.74 L484.20,155.66 L485.20,155.58 L486.20,155.50 L487.20,155.42 L488.20,155.33 L489.20,155.25 L490.20,155.18 L491.20,155.10 L492.20,155.02 L493.20,154.95 L494.20,154.87 L495.20,154.80 L496.20,154.74 L497.20,154.67 L498.20,154.61 L499.20,154.55 L500.20,154.49 L501.20,154.43 L502.20,154.38 L503.20,154.33 L504.20,154.27 L505.20,154.22 L506.20,154.17 L507.20,154.12 L508.20,154.08 L509.20,154.03 L510.20,153.98 L511.20,153.94 L512.20,153.90 L513.20,153.85 L514.20,153.81 L515.20,153.77 L516.20,153.74 L517.20,153.70 L518.20,153.66 L519.20,153.63 L520.20,153.59 L521.20,153.56 L522.20,153.53 L523.20,153.50 L524.20,153.46 L525.20,153.43 L526.20,153.40 L527.20,153.37 L528.20,153.34 L529.20,153.31 L530.20,153.28 L531.20,153.26 L532.20,153.23 L533.20,153.20 L534.20,153.18 L535.20,153.15 L536.20,153.13 L537.20,153.11 L538.20,153.09 L539.20,153.07 L540.20,153.05 L541.20,153.03 L542.20,153.01 L542.80,153.00" stroke="#ff08ff"/>
<path d="M336.20,161.50 L337.20,160.42 L338.20,159.27 L339.20,158.05 L340.20,156.76 L341.20,155.42 L342.20,153.97 L343.20,152.35 L344.20,150.61 L345.20,148.81 L346.20,147.01 L347.20,145.27 L348.20,143.65 L349.20,142.20 L350.20,140.91 L351.20,139.72 L352.20,138.59 L353.20,137.51 L354.20,136.45 L355.20,135.39 L356.20,134.37 L357.20,133.38 L358.20,132.41 L359.20,131.43 L360.20,130.42 L361.20,129.34 L362.20,128.17 L363.20,126.99 L364.20,125.90 L365.20,124.94 L366.20,124.05 L367.20,123.20 L368.20,122.40 L369.20,121.62 L370.20,120.87 L371.20,120.12 L372.20,119.38 L373.20,118.63 L374.20,117.86 L375.20,117.07 L376.20,116.25 L377.20,115.38 L378.20,114.47 L379.20,113.55 L380.20,112.63 L381.20,111.73 L382.20,110.86 L383.20,110.05 L384.20,109.30 L385.20,108.61 L386.20,107.97 L387.20,107.35 L388.20,106.75 L389.20,106.18 L390.20,105.62 L391.20,105.07 L392.20,104.52 L393.20,103.97 L394.20,103.41 L395.20,102.85 L396.20,102.29 L397.20,101.74 L398.20,101.20 L399.20,100.67 L400.20,100.15 L401.20,99.63 L402.20,99.12 L403.20,98.61 L404.20,98.11 L405.20,97.61 L406.20,97.12 L407.20,96.63 L408.20,96.15 L409.20,95.68 L410.20,95.21 L411.20,94.74 L412.20,94.29 L413.20,93.84 L414.20,93.39 L415.20,92.95 L416.20,92.52 L417.20,92.08 L418.20,91.65 L419.20,91.22 L420.20,90.79 L421.20,90.35 L422.20,89.91 L423.20,89.46 L424.20,89.01 L425.20,88.55 L426.20,88.10 L427.20,87.65 L428.20,87.22 L429.20,86.81 L430.20,86.43 L431.20,86.06 L432.20,85.70 L433.20,85.35 L434.20,85.01 L435.20,84.67 L436.20,84.34 L437.20,84.02 L438.20,83.71 L439.20,83.39 L440.20,83.09 L441.20,82.79 L442.20,82.49 L443.20,82.19 L444.20,81.90 L445.20,81.60 L446.20,81.31 L447.20,81.02 L448.20,80.73 L449.20,80.44 L450.20,80.14 L451.20,79.85 L452.20,79.56 L453.20,79.27 L454.20,78.98 L455.20,78.70 L456.20,78.42 L457.20,78.15 L458.20,77.88 L459.20,77.61 L460.20,77.35 L461.20,77.09 L462.20,76.83 L463.20,76.57 L464.20,76.32 L465.20,76.07 L466.20,75.81 L467.20,75.57 L468.20,75.32 L469.20,75.07 L470.20,74.83 L471.20,74.59 L472.20,74.35 L473.20,74.12 L474.20,73.89 L475.20,73.66 L476.20,73.43 L477.20,73.21 L478.20,72.99 L479.20,72.77 L480.20,72.56 L481.20,72.35 L482.20,72.13 L483.20,71.92 L484.20,71.71 L485.20,71.51 L486.20,71.30 L487.20,71.09 L488.20,70.89 L489.20,70.69 L490.20,70.49 L491.20,70.29 L492.20,70.09 L493.20,69.90 L494.20,69.71 L495.20,69.52 L496.20,69.33 L497.20,69.15 L498.20,68.96 L499.20,68.79 L500.20,68.61 L501.20,68.44 L502.20,68.27 L503.20,68.10 L504.20,67.94 L505.20,67.78 L506.20,67.63 L507.20,67.48 L508.20,67.33 L509.20,67.18 L510.20,67.04 L511.20,66.89 L512.20,66.75 L513.20,66.61 L514.20,66.48 L515.20,66.34 L516.20,66.21 L517.20,66.08 L518.20,65.95 L519.20,65.82 L520.20,65.70 L521.20,65.58 L522.20,65.46 L523.20,65.34 L524.20,65.22 L525.20,65.11 L526.20,65.00 L527.20,64.89 L528.20,64.79 L529.20,64.68 L530.20,64.58 L531.20,64.48 L532.20,64.38 L533.20,64.29 L534.20,64.20 L535.20,64.11 L536.20,64.02 L537.20,63.94 L538.20,63.85 L539.20,63.77 L540.20,63.69 L541.20,63.62 L542.20,63.54 L542.80,63.50" stroke="#c06418" stroke-dasharray="4.6 1.8 1.2 1.8"/>
<path d="M336.20,157.90 L337.20,156.27 L338.20,154.64 L339.20,153.03 L340.20,151.42 L341.20,149.82 L342.20,148.25 L343.20,146.69 L344.20,145.13 L345.20,143.56 L346.20,141.96 L347.20,140.32 L348.20,138.66 L349.20,137.01 L350.20,135.40 L351.20,133.83 L352.20,132.28 L353.20,130.74 L354.20,129.21 L355.20,127.65 L356.20,126.08 L357.20,124.55 L358.20,123.10 L359.20,121.74 L360.20,120.43 L361.20,119.16 L362.20,117.91 L363.20,116.69 L364.20,115.49 L365.20,114.31 L366.20,113.15 L367.20,112.01 L368.20,110.87 L369.20,109.74 L370.20,108.62 L371.20,107.50 L372.20,106.39 L373.20,105.30 L374.20,104.24 L375.20,103.20 L376.20,102.19 L377.20,101.21 L378.20,100.26 L379.20,99.33 L380.20,98.42 L381.20,97.53 L382.20,96.65 L383.20,95.77 L384.20,94.93 L385.20,94.13 L386.20,93.39 L387.20,92.69 L388.20,92.02 L389.20,91.37 L390.20,90.74 L391.20,90.13 L392.20,89.54 L393.20,88.97 L394.20,88.40 L395.20,87.85 L396.20,87.28 L397.20,86.71 L398.20,86.12 L399.20,85.51 L400.20,84.89 L401.20,84.26 L402.20,83.64 L403.20,83.03 L404.20,82.42 L405.20,81.82 L406.20,81.21 L407.20,80.61 L408.20,80.02 L409.20,79.43 L410.20,78.84 L411.20,78.26 L412.20,77.69 L413.20,77.12 L414.20,76.55 L415.20,75.99 L416.20,75.44 L417.20,74.89 L418.20,74.35 L419.20,73.82 L420.20,73.30 L421.20,72.78 L422.20,72.27 L423.20,71.77 L424.20,71.27 L425.20,70.78 L426.20,70.29 L427.20,69.81 L428.20,69.33 L429.20,68.84 L430.20,68.36 L431.20,67.88 L432.20,67.39 L433.20,66.90 L434.20,66.41 L435.20,65.91 L436.20,65.39 L437.20,64.87 L438.20,64.35 L439.20,63.86 L440.20,63.41 L441.20,62.99 L442.20,62.57 L443.20,62.17 L444.20,61.78 L445.20,61.39 L446.20,61.02 L447.20,60.65 L448.20,60.29 L449.20,59.94 L450.20,59.59 L451.20,59.25 L452.20,58.91 L453.20,58.58 L454.20,58.25 L455.20,57.91 L456.20,57.59 L457.20,57.26 L458.20,56.94 L459.20,56.62 L460.20,56.31 L461.20,56.00 L462.20,55.70 L463.20,55.40 L464.20,55.10 L465.20,54.81 L466.20,54.52 L467.20,54.23 L468.20,53.96 L469.20,53.68 L470.20,53.41 L471.20,53.15 L472.20,52.89 L473.20,52.63 L474.20,52.39 L475.20,52.14 L476.20,51.91 L477.20,51.67 L478.20,51.45 L479.20,51.22 L480.20,51.01 L481.20,50.79 L482.20,50.58 L483.20,50.38 L484.20,50.18 L485.20,49.98 L486.20,49.79 L487.20,49.60 L488.20,49.41 L489.20,49.22 L490.20,49.03 L491.20,48.84 L492.20,48.66 L493.20,48.47 L494.20,48.28 L495.20,48.09 L496.20,47.90 L497.20,47.72 L498.20,47.53 L499.20,47.35 L500.20,47.16 L501.20,46.98 L502.20,46.80 L503.20,46.62 L504.20,46.45 L505.20,46.27 L506.20,46.11 L507.20,45.94 L508.20,45.78 L509.20,45.61 L510.20,45.45 L511.20,45.30 L512.20,45.14 L513.20,44.99 L514.20,44.83 L515.20,44.68 L516.20,44.53 L517.20,44.38 L518.20,44.23 L519.20,44.09 L520.20,43.94 L521.20,43.80 L522.20,43.65 L523.20,43.51 L524.20,43.37 L525.20,43.23 L526.20,43.09 L527.20,42.95 L528.20,42.81 L529.20,42.67 L530.20,42.53 L531.20,42.40 L532.20,42.26 L533.20,42.13 L534.20,42.00 L535.20,41.86 L536.20,41.73 L537.20,41.60 L538.20,41.47 L539.20,41.35 L540.20,41.22 L541.20,41.09 L542.20,40.97 L542.80,40.89" stroke="#404040" stroke-dasharray="4.6 1.8 1.2 1.8"/>
<path d="M336.20,157.90 L337.20,156.27 L338.20,154.64 L339.20,153.02 L340.20,151.42 L341.20,149.82 L342.20,148.24 L343.20,146.68 L344.20,145.12 L345.20,143.55 L346.20,141.95 L347.20,140.31 L348.20,138.65 L349.20,137.00 L350.20,135.39 L351.20,133.82 L352.20,132.27 L353.20,130.73 L354.20,129.19 L355.20,127.64 L356.20,126.07 L357.20,124.54 L358.20,123.09 L359.20,121.71 L360.20,120.38 L361.20,119.09 L362.20,117.82 L363.20,116.57 L364.20,115.33 L365.20,114.12 L366.20,112.92 L367.20,111.74 L368.20,110.57 L369.20,109.40 L370.20,108.24 L371.20,107.08 L372.20,105.94 L373.20,104.82 L374.20,103.72 L375.20,102.65 L376.20,101.62 L377.20,100.62 L378.20,99.66 L379.20,98.72 L380.20,97.79 L381.20,96.89 L382.20,95.98 L383.20,95.10 L384.20,94.24 L385.20,93.43 L386.20,92.67 L387.20,91.95 L388.20,91.27 L389.20,90.61 L390.20,89.96 L391.20,89.33 L392.20,88.72 L393.20,88.12 L394.20,87.54 L395.20,86.96 L396.20,86.37 L397.20,85.77 L398.20,85.15 L399.20,84.52 L400.20,83.86 L401.20,83.21 L402.20,82.55 L403.20,81.91 L404.20,81.26 L405.20,80.62 L406.20,79.98 L407.20,79.35 L408.20,78.71 L409.20,78.08 L410.20,77.46 L411.20,76.84 L412.20,76.23 L413.20,75.62 L414.20,75.02 L415.20,74.42 L416.20,73.83 L417.20,73.25 L418.20,72.67 L419.20,72.10 L420.20,71.54 L421.20,70.99 L422.20,70.44 L423.20,69.91 L424.20,69.38 L425.20,68.86 L426.20,68.34 L427.20,67.82 L428.20,67.30 L429.20,66.79 L430.20,66.28 L431.20,65.76 L432.20,65.24 L433.20,64.72 L434.20,64.20 L435.20,63.67 L436.20,63.12 L437.20,62.56 L438.20,62.02 L439.20,61.49 L440.20,61.01 L441.20,60.54 L442.20,60.09 L443.20,59.65 L444.20,59.22 L445.20,58.80 L446.20,58.38 L447.20,57.98 L448.20,57.58 L449.20,57.19 L450.20,56.80 L451.20,56.42 L452.20,56.04 L453.20,55.67 L454.20,55.30 L455.20,54.93 L456.20,54.56 L457.20,54.19 L458.20,53.83 L459.20,53.48 L460.20,53.12 L461.20,52.77 L462.20,52.42 L463.20,52.08 L464.20,51.75 L465.20,51.41 L466.20,51.09 L467.20,50.77 L468.20,50.45 L469.20,50.14 L470.20,49.84 L471.20,49.54 L472.20,49.25 L473.20,48.97 L474.20,48.69 L475.20,48.42 L476.20,48.16 L477.20,47.90 L478.20,47.65 L479.20,47.40 L480.20,47.15 L481.20,46.91 L482.20,46.68 L483.20,46.44 L484.20,46.22 L485.20,45.99 L486.20,45.77 L487.20,45.55 L488.20,45.33 L489.20,45.12 L490.20,44.90 L491.20,44.69 L492.20,44.47 L493.20,44.26 L494.20,44.04 L495.20,43.82 L496.20,43.61 L497.20,43.39 L498.20,43.18 L499.20,42.96 L500.20,42.75 L501.20,42.54 L502.20,42.33 L503.20,42.12 L504.20,41.92 L505.20,41.72 L506.20,41.52 L507.20,41.32 L508.20,41.13 L509.20,40.94 L510.20,40.75 L511.20,40.56 L512.20,40.37 L513.20,40.19 L514.20,40.00 L515.20,39.82 L516.20,39.64 L517.20,39.46 L518.20,39.28 L519.20,39.11 L520.20,38.93 L521.20,38.76 L522.20,38.58 L523.20,38.41 L524.20,38.24 L525.20,38.07 L526.20,37.89 L527.20,37.72 L528.20,37.56 L529.20,37.39 L530.20,37.22 L531.20,37.05 L532.20,36.89 L533.20,36.72 L534.20,36.56 L535.20,36.40 L536.20,36.24 L537.20,36.08 L538.20,35.92 L539.20,35.76 L540.20,35.60 L541.20,35.45 L542.20,35.29 L542.80,35.20" stroke="#ff8408" stroke-dasharray="4.6 1.8 1.2 1.8"/>
<path d="M336.20,157.90 L337.20,156.26 L338.20,154.62 L339.20,153.00 L340.20,151.38 L341.20,149.78 L342.20,148.20 L343.20,146.63 L344.20,145.06 L345.20,143.48 L346.20,141.88 L347.20,140.23 L348.20,138.56 L349.20,136.90 L350.20,135.28 L351.20,133.70 L352.20,132.14 L353.20,130.60 L354.20,129.05 L355.20,127.49 L356.20,125.92 L357.20,124.38 L358.20,122.92 L359.20,121.53 L360.20,120.20 L361.20,118.90 L362.20,117.62 L363.20,116.36 L364.20,115.12 L365.20,113.90 L366.20,112.69 L367.20,111.50 L368.20,110.32 L369.20,109.14 L370.20,107.97 L371.20,106.81 L372.20,105.66 L373.20,104.53 L374.20,103.42 L375.20,102.34 L376.20,101.29 L377.20,100.27 L378.20,99.27 L379.20,98.30 L380.20,97.35 L381.20,96.41 L382.20,95.48 L383.20,94.57 L384.20,93.68 L385.20,92.84 L386.20,92.06 L387.20,91.31 L388.20,90.60 L389.20,89.91 L390.20,89.23 L391.20,88.57 L392.20,87.93 L393.20,87.31 L394.20,86.70 L395.20,86.09 L396.20,85.47 L397.20,84.85 L398.20,84.21 L399.20,83.55 L400.20,82.88 L401.20,82.20 L402.20,81.53 L403.20,80.87 L404.20,80.21 L405.20,79.56 L406.20,78.90 L407.20,78.25 L408.20,77.61 L409.20,76.97 L410.20,76.33 L411.20,75.70 L412.20,75.08 L413.20,74.46 L414.20,73.84 L415.20,73.23 L416.20,72.63 L417.20,72.03 L418.20,71.44 L419.20,70.86 L420.20,70.29 L421.20,69.72 L422.20,69.17 L423.20,68.62 L424.20,68.08 L425.20,67.54 L426.20,67.01 L427.20,66.48 L428.20,65.95 L429.20,65.43 L430.20,64.90 L431.20,64.37 L432.20,63.84 L433.20,63.31 L434.20,62.77 L435.20,62.23 L436.20,61.66 L437.20,61.09 L438.20,60.53 L439.20,60.00 L440.20,59.50 L441.20,59.04 L442.20,58.58 L443.20,58.14 L444.20,57.71 L445.20,57.28 L446.20,56.87 L447.20,56.47 L448.20,56.07 L449.20,55.68 L450.20,55.29 L451.20,54.91 L452.20,54.54 L453.20,54.17 L454.20,53.80 L455.20,53.43 L456.20,53.06 L457.20,52.69 L458.20,52.33 L459.20,51.98 L460.20,51.62 L461.20,51.27 L462.20,50.92 L463.20,50.58 L464.20,50.25 L465.20,49.91 L466.20,49.59 L467.20,49.27 L468.20,48.95 L469.20,48.64 L470.20,48.34 L471.20,48.04 L472.20,47.75 L473.20,47.47 L474.20,47.19 L475.20,46.92 L476.20,46.66 L477.20,46.40 L478.20,46.15 L479.20,45.90 L480.20,45.65 L481.20,45.41 L482.20,45.18 L483.20,44.94 L484.20,44.72 L485.20,44.49 L486.20,44.27 L487.20,44.05 L488.20,43.83 L489.20,43.62 L490.20,43.40 L491.20,43.19 L492.20,42.97 L493.20,42.76 L494.20,42.54 L495.20,42.32 L496.20,42.11 L497.20,41.89 L498.20,41.68 L499.20,41.46 L500.20,41.25 L501.20,41.04 L502.20,40.83 L503.20,40.62 L504.20,40.42 L505.20,40.22 L506.20,40.02 L507.20,39.82 L508.20,39.63 L509.20,39.44 L510.20,39.25 L511.20,39.06 L512.20,38.87 L513.20,38.69 L514.20,38.50 L515.20,38.32 L516.20,38.14 L517.20,37.96 L518.20,37.78 L519.20,37.61 L520.20,37.43 L521.20,37.26 L522.20,37.08 L523.20,36.91 L524.20,36.74 L525.20,36.57 L526.20,36.39 L527.20,36.22 L528.20,36.06 L529.20,35.89 L530.20,35.72 L531.20,35.55 L532.20,35.39 L533.20,35.22 L534.20,35.06 L535.20,34.90 L536.20,34.74 L537.20,34.58 L538.20,34.42 L539.20,34.26 L540.20,34.10 L541.20,33.95 L542.20,33.79 L542.80,33.70" stroke="#ff08ff" stroke-dasharray="4.6 1.8 1.2 1.8"/>
</g>
<path d="M325.50,9.90 V190.00 M324.85,189.35 H543.35 M542.70,190.00 V9.90 M543.35,10.55 H324.85" fill="none" stroke="#0a0a0a" stroke-width="1.3"/>


<text x="69" y="22.9" class="lb" font-size="8.8" fill="#1aa06c" text-anchor="middle">3</text>
<text x="46.1" y="125.3" class="lb" font-size="8.8" fill="#1aa06c" text-anchor="middle">3</text>
<text x="233.2" y="68.0" class="lb" font-size="8.2" fill="#f25a14" text-anchor="middle">1</text>
<text x="196.6" y="170.4" class="lb" font-size="8.2" fill="#f25a14" text-anchor="middle">1</text>
<text x="219.2" y="105.6" class="lb" font-size="8.4" fill="#111" text-anchor="middle">0.5</text>
<text x="39.2" y="156" class="lb" font-size="8.3" fill="#b8641e" text-anchor="middle">0.15</text>
<text x="43" y="187.8" class="lb" font-size="8.3" fill="#b8641e" text-anchor="middle">0.15</text>
<text transform="translate(14.98,126.23) rotate(-90)" font-family="Liberation Sans" font-weight="normal" font-size="12.40" fill="#111" stroke="#111" stroke-width="0.3">κ</text>
<text transform="translate(14.17,112.69) rotate(-90)" font-family="Liberation Sans" font-weight="normal" font-size="10.40" fill="#111" stroke="#111" stroke-width="0.4">/</text>
<text transform="translate(14.98,106.43) rotate(-90)" font-family="Liberation Sans" font-weight="normal" font-size="12.40" fill="#111" stroke="#111" stroke-width="0.3">κ</text>
<text transform="translate(16.04,98.36) rotate(-90)" font-family="Liberation Sans" font-weight="normal" font-size="6.80" fill="#111" stroke="#111" stroke-width="0.15">L</text>
<text transform="translate(15.32,89.04) rotate(-90)" font-family="Liberation Sans" font-weight="normal" font-size="12.10" fill="#111" stroke="#111" stroke-width="0.3">−</text>
<text transform="translate(14.58,81.64) rotate(-90)" font-family="Liberation Serif" font-weight="normal" font-size="11.90" fill="#111" stroke="#111" stroke-width="0.1">1</text>
<text transform="translate(140.8,208.3) scale(1.15,1)" class="sf" font-size="15.2" fill="#111" text-anchor="middle">α</text>
<text x="139.0" y="234" class="sf" font-size="14.6" fill="#111" text-anchor="middle"><tspan font-size="15.3" stroke="#111" stroke-width="0.35">(</tspan><tspan font-weight="bold">a</tspan><tspan font-size="15.3" stroke="#111" stroke-width="0.35">)</tspan></text>
<text x="459.8" y="45.6" font-family="Liberation Sans" font-size="9.7" fill="#9a3cf0" stroke="#9a3cf0" stroke-width="0.45" text-anchor="middle">3</text>
<text x="452.0" y="166.3" font-family="Liberation Sans" font-size="9.7" fill="#9a3cf0" stroke="#9a3cf0" stroke-width="0.45" text-anchor="middle">3</text>
<text x="428.4" y="131.0" class="sf" font-size="10.6" fill="#c06a20" stroke="#c06a20" stroke-width="0.15" text-anchor="middle" word-spacing="0.15">α = 0</text>
<text x="485.3" y="85.8" class="sf" font-size="10.6" fill="#c06a20" stroke="#c06a20" stroke-width="0.15" text-anchor="middle" word-spacing="0.15">α = 0</text>
<text transform="translate(308.29,129.47) rotate(-90)" font-family="Liberation Sans" font-weight="normal" font-size="13.60" fill="#111" stroke="#111" stroke-width="0.3">κ</text>
<text transform="translate(307.32,116.94) rotate(-90)" font-family="Liberation Sans" font-weight="normal" font-size="11.80" fill="#111" stroke="#111" stroke-width="0.4">/</text>
<text transform="translate(308.29,108.57) rotate(-90)" font-family="Liberation Sans" font-weight="normal" font-size="13.60" fill="#111" stroke="#111" stroke-width="0.3">κ</text>
<text transform="translate(308.87,98.49) rotate(-90)" font-family="Liberation Sans" font-weight="normal" font-size="6.90" fill="#111" stroke="#111" stroke-width="0.15">L</text>
<text transform="translate(309.52,93.23) rotate(-90)" font-family="Liberation Sans" font-weight="normal" font-size="16.00" fill="#111" stroke="#111" stroke-width="0.3">−</text>
<text transform="translate(308.02,80.27) rotate(-90)" font-family="Liberation Serif" font-weight="normal" font-size="14.30" fill="#111" stroke="#111" stroke-width="0.1">1</text>
<text x="434.5" y="208" font-family="Liberation Sans" font-size="14" fill="#111" text-anchor="middle">n</text>
<text x="432.3" y="234" class="sf" font-size="14.6" fill="#111" text-anchor="middle"><tspan font-size="15.3" stroke="#111" stroke-width="0.35">(</tspan><tspan font-weight="bold">b</tspan><tspan font-size="15.3" stroke="#111" stroke-width="0.35">)</tspan></text>
</svg>
</body></html>
